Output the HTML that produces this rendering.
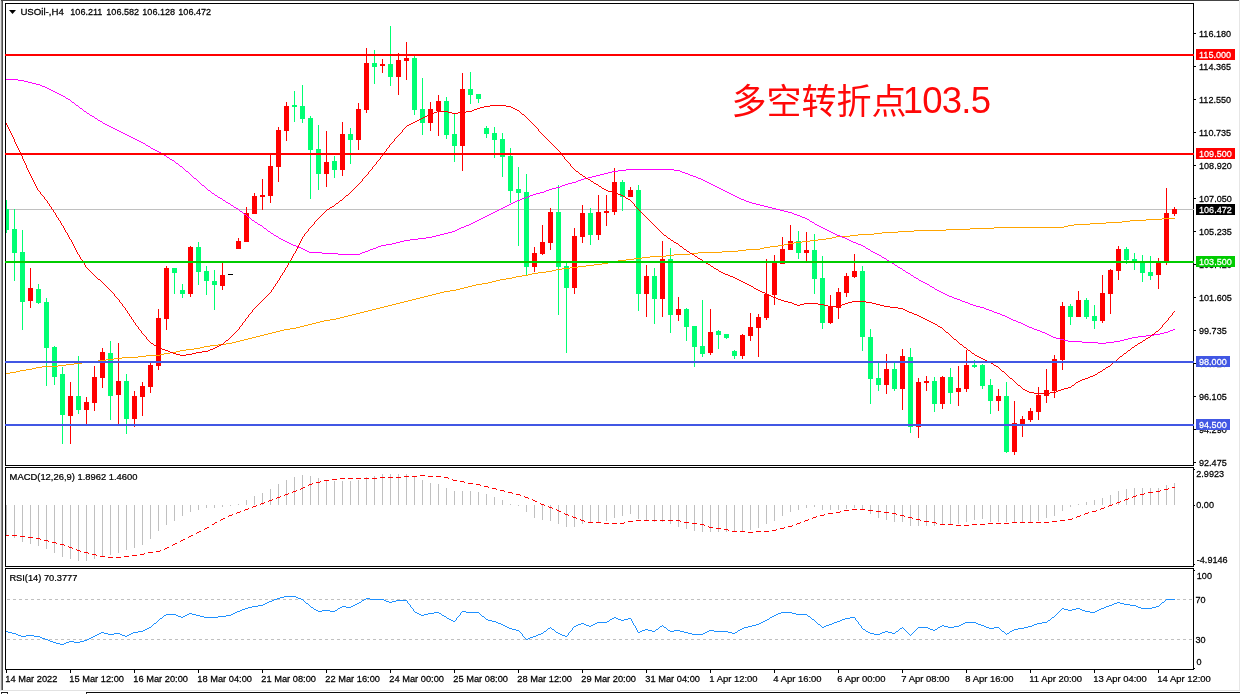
<!DOCTYPE html>
<html lang="zh"><head><meta charset="utf-8"><title>USOil H4</title>
<style>html,body{margin:0;padding:0;background:#fff;overflow:hidden}body{width:1240px;height:694px}svg text{white-space:pre}</style>
</head><body>
<svg width="1240" height="694" viewBox="0 0 1240 694" style="display:block">
<g shape-rendering="crispEdges">
<rect x="0" y="0" width="1240" height="694" fill="#ffffff"/>
<rect x="0" y="0" width="1" height="690" fill="#e4e4e4"/>
<rect x="1" y="0" width="1" height="690" fill="#8c8c8c"/>
<rect x="2" y="0" width="1" height="690" fill="#4a4a4a"/>
<rect x="1" y="0" width="1238" height="1" fill="#444444"/>
<rect x="1239" y="0" width="1" height="691" fill="#e6e6e6"/>
<rect x="0" y="690" width="1240" height="1" fill="#e2e2e2"/>
<rect x="1" y="692" width="7" height="1" fill="#1c1c1c"/>
<rect x="86" y="692" width="1154" height="1" fill="#0c0c0c"/>
<rect x="1" y="693" width="1" height="1" fill="#333"/>
<rect x="7" y="693" width="1" height="1" fill="#333"/>
<rect x="86" y="693" width="1" height="1" fill="#333"/>
<rect x="5" y="3" width="1189" height="1" fill="#000"/>
<rect x="5" y="465" width="1189" height="1" fill="#000"/>
<rect x="5" y="3" width="1" height="463" fill="#000"/>
<rect x="1193" y="3" width="1" height="463" fill="#000"/>
<rect x="5" y="467" width="1189" height="1" fill="#000"/>
<rect x="5" y="566" width="1189" height="1" fill="#000"/>
<rect x="5" y="467" width="1" height="100" fill="#000"/>
<rect x="1193" y="467" width="1" height="100" fill="#000"/>
<rect x="5" y="568" width="1189" height="1" fill="#000"/>
<rect x="5" y="669" width="1189" height="1" fill="#000"/>
<rect x="5" y="568" width="1" height="102" fill="#000"/>
<rect x="1193" y="568" width="1" height="102" fill="#000"/>
<rect x="6" y="209" width="1188" height="1" fill="#c0c0c0"/>
</g>
<clipPath id="cm"><rect x="6" y="4" width="1187" height="461"/></clipPath>
<g shape-rendering="crispEdges" clip-path="url(#cm)">
<rect x="6" y="200" width="1" height="33" fill="#00ff72"/>
<rect x="4" y="209" width="5" height="21" fill="#00ff72"/>
<rect x="14" y="209" width="1" height="72" fill="#00ff72"/>
<rect x="12" y="229" width="5" height="24" fill="#00ff72"/>
<rect x="22" y="230" width="1" height="100" fill="#00ff72"/>
<rect x="20" y="252" width="5" height="50" fill="#00ff72"/>
<rect x="30" y="268" width="1" height="40" fill="#ff0000"/>
<rect x="28" y="288" width="5" height="13" fill="#ff0000"/>
<rect x="38" y="284" width="1" height="20" fill="#00ff72"/>
<rect x="36" y="289" width="5" height="14" fill="#00ff72"/>
<rect x="46" y="298" width="1" height="88" fill="#00ff72"/>
<rect x="44" y="302" width="5" height="46" fill="#00ff72"/>
<rect x="54" y="346" width="1" height="39" fill="#00ff72"/>
<rect x="52" y="347" width="5" height="30" fill="#00ff72"/>
<rect x="62" y="367" width="1" height="77" fill="#00ff72"/>
<rect x="60" y="374" width="5" height="41" fill="#00ff72"/>
<rect x="70" y="382" width="1" height="62" fill="#ff0000"/>
<rect x="68" y="396" width="5" height="20" fill="#ff0000"/>
<rect x="78" y="356" width="1" height="58" fill="#00ff72"/>
<rect x="76" y="396" width="5" height="14" fill="#00ff72"/>
<rect x="86" y="397" width="1" height="27" fill="#ff0000"/>
<rect x="84" y="402" width="5" height="8" fill="#ff0000"/>
<rect x="94" y="366" width="1" height="45" fill="#ff0000"/>
<rect x="92" y="377" width="5" height="26" fill="#ff0000"/>
<rect x="102" y="348" width="1" height="40" fill="#ff0000"/>
<rect x="100" y="352" width="5" height="26" fill="#ff0000"/>
<rect x="110" y="341" width="1" height="79" fill="#00ff72"/>
<rect x="108" y="353" width="5" height="43" fill="#00ff72"/>
<rect x="118" y="343" width="1" height="81" fill="#ff0000"/>
<rect x="116" y="381" width="5" height="14" fill="#ff0000"/>
<rect x="126" y="374" width="1" height="60" fill="#00ff72"/>
<rect x="124" y="381" width="5" height="38" fill="#00ff72"/>
<rect x="134" y="391" width="1" height="36" fill="#ff0000"/>
<rect x="132" y="396" width="5" height="23" fill="#ff0000"/>
<rect x="142" y="382" width="1" height="34" fill="#ff0000"/>
<rect x="140" y="386" width="5" height="11" fill="#ff0000"/>
<rect x="150" y="363" width="1" height="30" fill="#ff0000"/>
<rect x="148" y="365" width="5" height="22" fill="#ff0000"/>
<rect x="158" y="309" width="1" height="61" fill="#ff0000"/>
<rect x="156" y="318" width="5" height="48" fill="#ff0000"/>
<rect x="166" y="266" width="1" height="64" fill="#ff0000"/>
<rect x="164" y="268" width="5" height="51" fill="#ff0000"/>
<rect x="174" y="268" width="1" height="26" fill="#00ff72"/>
<rect x="172" y="268" width="5" height="5" fill="#00ff72"/>
<rect x="182" y="284" width="1" height="14" fill="#00ff72"/>
<rect x="180" y="290" width="5" height="4" fill="#00ff72"/>
<rect x="190" y="246" width="1" height="51" fill="#ff0000"/>
<rect x="188" y="247" width="5" height="47" fill="#ff0000"/>
<rect x="198" y="242" width="1" height="43" fill="#00ff72"/>
<rect x="196" y="247" width="5" height="25" fill="#00ff72"/>
<rect x="206" y="266" width="1" height="29" fill="#00ff72"/>
<rect x="204" y="271" width="5" height="10" fill="#00ff72"/>
<rect x="214" y="270" width="1" height="40" fill="#00ff72"/>
<rect x="212" y="281" width="5" height="4" fill="#00ff72"/>
<rect x="222" y="263" width="1" height="27" fill="#ff0000"/>
<rect x="220" y="275" width="5" height="11" fill="#ff0000"/>
<rect x="230" y="274" width="1" height="1" fill="#000000"/>
<rect x="228" y="274" width="5" height="1" fill="#000000"/>
<rect x="238" y="238" width="1" height="11" fill="#ff0000"/>
<rect x="236" y="241" width="5" height="8" fill="#ff0000"/>
<rect x="246" y="207" width="1" height="35" fill="#ff0000"/>
<rect x="244" y="213" width="5" height="29" fill="#ff0000"/>
<rect x="254" y="193" width="1" height="21" fill="#ff0000"/>
<rect x="252" y="196" width="5" height="18" fill="#ff0000"/>
<rect x="262" y="179" width="1" height="31" fill="#ff0000"/>
<rect x="260" y="195" width="5" height="2" fill="#ff0000"/>
<rect x="270" y="155" width="1" height="48" fill="#ff0000"/>
<rect x="268" y="166" width="5" height="30" fill="#ff0000"/>
<rect x="278" y="127" width="1" height="55" fill="#ff0000"/>
<rect x="276" y="130" width="5" height="37" fill="#ff0000"/>
<rect x="286" y="102" width="1" height="39" fill="#ff0000"/>
<rect x="284" y="106" width="5" height="25" fill="#ff0000"/>
<rect x="294" y="91" width="1" height="31" fill="#00ff72"/>
<rect x="292" y="105" width="5" height="2" fill="#00ff72"/>
<rect x="302" y="85" width="1" height="38" fill="#00ff72"/>
<rect x="300" y="106" width="5" height="13" fill="#00ff72"/>
<rect x="310" y="116" width="1" height="83" fill="#00ff72"/>
<rect x="308" y="118" width="5" height="32" fill="#00ff72"/>
<rect x="318" y="125" width="1" height="65" fill="#00ff72"/>
<rect x="316" y="149" width="5" height="25" fill="#00ff72"/>
<rect x="326" y="131" width="1" height="56" fill="#ff0000"/>
<rect x="324" y="162" width="5" height="12" fill="#ff0000"/>
<rect x="334" y="156" width="1" height="22" fill="#00ff72"/>
<rect x="332" y="161" width="5" height="9" fill="#00ff72"/>
<rect x="342" y="122" width="1" height="54" fill="#ff0000"/>
<rect x="340" y="134" width="5" height="36" fill="#ff0000"/>
<rect x="350" y="128" width="1" height="36" fill="#00ff72"/>
<rect x="348" y="134" width="5" height="6" fill="#00ff72"/>
<rect x="358" y="103" width="1" height="47" fill="#ff0000"/>
<rect x="356" y="109" width="5" height="31" fill="#ff0000"/>
<rect x="366" y="48" width="1" height="65" fill="#ff0000"/>
<rect x="364" y="63" width="5" height="47" fill="#ff0000"/>
<rect x="374" y="50" width="1" height="34" fill="#00ff72"/>
<rect x="372" y="63" width="5" height="4" fill="#00ff72"/>
<rect x="382" y="59" width="1" height="14" fill="#ff0000"/>
<rect x="380" y="64" width="5" height="2" fill="#ff0000"/>
<rect x="390" y="26" width="1" height="60" fill="#00ff72"/>
<rect x="388" y="64" width="5" height="13" fill="#00ff72"/>
<rect x="398" y="53" width="1" height="42" fill="#ff0000"/>
<rect x="396" y="60" width="5" height="17" fill="#ff0000"/>
<rect x="406" y="42" width="1" height="38" fill="#ff0000"/>
<rect x="404" y="58" width="5" height="3" fill="#ff0000"/>
<rect x="414" y="56" width="1" height="59" fill="#00ff72"/>
<rect x="412" y="58" width="5" height="52" fill="#00ff72"/>
<rect x="422" y="78" width="1" height="57" fill="#00ff72"/>
<rect x="420" y="109" width="5" height="14" fill="#00ff72"/>
<rect x="430" y="102" width="1" height="29" fill="#ff0000"/>
<rect x="428" y="109" width="5" height="14" fill="#ff0000"/>
<rect x="438" y="95" width="1" height="41" fill="#ff0000"/>
<rect x="436" y="101" width="5" height="10" fill="#ff0000"/>
<rect x="446" y="97" width="1" height="42" fill="#00ff72"/>
<rect x="444" y="101" width="5" height="34" fill="#00ff72"/>
<rect x="454" y="113" width="1" height="49" fill="#00ff72"/>
<rect x="452" y="134" width="5" height="12" fill="#00ff72"/>
<rect x="462" y="73" width="1" height="98" fill="#ff0000"/>
<rect x="460" y="89" width="5" height="57" fill="#ff0000"/>
<rect x="470" y="72" width="1" height="32" fill="#00ff72"/>
<rect x="468" y="89" width="5" height="6" fill="#00ff72"/>
<rect x="478" y="94" width="1" height="9" fill="#00ff72"/>
<rect x="476" y="94" width="5" height="5" fill="#00ff72"/>
<rect x="486" y="126" width="1" height="12" fill="#00ff72"/>
<rect x="484" y="128" width="5" height="6" fill="#00ff72"/>
<rect x="494" y="127" width="1" height="31" fill="#00ff72"/>
<rect x="492" y="133" width="5" height="7" fill="#00ff72"/>
<rect x="502" y="133" width="1" height="44" fill="#00ff72"/>
<rect x="500" y="139" width="5" height="18" fill="#00ff72"/>
<rect x="510" y="148" width="1" height="55" fill="#00ff72"/>
<rect x="508" y="156" width="5" height="35" fill="#00ff72"/>
<rect x="518" y="167" width="1" height="79" fill="#00ff72"/>
<rect x="516" y="189" width="5" height="4" fill="#00ff72"/>
<rect x="526" y="174" width="1" height="101" fill="#00ff72"/>
<rect x="524" y="192" width="5" height="75" fill="#00ff72"/>
<rect x="534" y="247" width="1" height="25" fill="#ff0000"/>
<rect x="532" y="253" width="5" height="14" fill="#ff0000"/>
<rect x="542" y="225" width="1" height="30" fill="#ff0000"/>
<rect x="540" y="242" width="5" height="12" fill="#ff0000"/>
<rect x="550" y="208" width="1" height="42" fill="#ff0000"/>
<rect x="548" y="212" width="5" height="31" fill="#ff0000"/>
<rect x="558" y="185" width="1" height="130" fill="#00ff72"/>
<rect x="556" y="212" width="5" height="55" fill="#00ff72"/>
<rect x="566" y="263" width="1" height="90" fill="#00ff72"/>
<rect x="564" y="266" width="5" height="22" fill="#00ff72"/>
<rect x="574" y="228" width="1" height="66" fill="#ff0000"/>
<rect x="572" y="236" width="5" height="52" fill="#ff0000"/>
<rect x="582" y="205" width="1" height="38" fill="#ff0000"/>
<rect x="580" y="213" width="5" height="24" fill="#ff0000"/>
<rect x="590" y="208" width="1" height="37" fill="#00ff72"/>
<rect x="588" y="213" width="5" height="22" fill="#00ff72"/>
<rect x="598" y="195" width="1" height="45" fill="#ff0000"/>
<rect x="596" y="212" width="5" height="23" fill="#ff0000"/>
<rect x="606" y="195" width="1" height="31" fill="#ff0000"/>
<rect x="604" y="211" width="5" height="2" fill="#ff0000"/>
<rect x="614" y="168" width="1" height="47" fill="#ff0000"/>
<rect x="612" y="182" width="5" height="30" fill="#ff0000"/>
<rect x="622" y="180" width="1" height="31" fill="#00ff72"/>
<rect x="620" y="182" width="5" height="15" fill="#00ff72"/>
<rect x="630" y="187" width="1" height="10" fill="#ff0000"/>
<rect x="628" y="190" width="5" height="7" fill="#ff0000"/>
<rect x="638" y="185" width="1" height="126" fill="#00ff72"/>
<rect x="636" y="190" width="5" height="104" fill="#00ff72"/>
<rect x="646" y="265" width="1" height="52" fill="#ff0000"/>
<rect x="644" y="276" width="5" height="18" fill="#ff0000"/>
<rect x="654" y="268" width="1" height="56" fill="#00ff72"/>
<rect x="652" y="276" width="5" height="23" fill="#00ff72"/>
<rect x="662" y="241" width="1" height="76" fill="#ff0000"/>
<rect x="660" y="259" width="5" height="40" fill="#ff0000"/>
<rect x="670" y="248" width="1" height="85" fill="#00ff72"/>
<rect x="668" y="259" width="5" height="56" fill="#00ff72"/>
<rect x="678" y="297" width="1" height="24" fill="#ff0000"/>
<rect x="676" y="309" width="5" height="6" fill="#ff0000"/>
<rect x="686" y="308" width="1" height="33" fill="#00ff72"/>
<rect x="684" y="309" width="5" height="18" fill="#00ff72"/>
<rect x="694" y="326" width="1" height="41" fill="#00ff72"/>
<rect x="692" y="326" width="5" height="21" fill="#00ff72"/>
<rect x="702" y="300" width="1" height="57" fill="#00ff72"/>
<rect x="700" y="346" width="5" height="8" fill="#00ff72"/>
<rect x="710" y="309" width="1" height="46" fill="#ff0000"/>
<rect x="708" y="332" width="5" height="21" fill="#ff0000"/>
<rect x="718" y="330" width="1" height="19" fill="#00ff72"/>
<rect x="716" y="331" width="5" height="4" fill="#00ff72"/>
<rect x="726" y="334" width="1" height="5" fill="#00ff72"/>
<rect x="724" y="334" width="5" height="4" fill="#00ff72"/>
<rect x="734" y="350" width="1" height="9" fill="#00ff72"/>
<rect x="732" y="351" width="5" height="5" fill="#00ff72"/>
<rect x="742" y="334" width="1" height="25" fill="#ff0000"/>
<rect x="740" y="335" width="5" height="21" fill="#ff0000"/>
<rect x="750" y="313" width="1" height="28" fill="#ff0000"/>
<rect x="748" y="327" width="5" height="9" fill="#ff0000"/>
<rect x="758" y="314" width="1" height="43" fill="#ff0000"/>
<rect x="756" y="317" width="5" height="11" fill="#ff0000"/>
<rect x="766" y="259" width="1" height="61" fill="#ff0000"/>
<rect x="764" y="294" width="5" height="24" fill="#ff0000"/>
<rect x="774" y="255" width="1" height="50" fill="#ff0000"/>
<rect x="772" y="263" width="5" height="32" fill="#ff0000"/>
<rect x="782" y="237" width="1" height="27" fill="#ff0000"/>
<rect x="780" y="249" width="5" height="15" fill="#ff0000"/>
<rect x="790" y="225" width="1" height="25" fill="#ff0000"/>
<rect x="788" y="241" width="5" height="9" fill="#ff0000"/>
<rect x="798" y="231" width="1" height="28" fill="#00ff72"/>
<rect x="796" y="241" width="5" height="12" fill="#00ff72"/>
<rect x="806" y="232" width="1" height="30" fill="#ff0000"/>
<rect x="804" y="250" width="5" height="3" fill="#ff0000"/>
<rect x="814" y="234" width="1" height="60" fill="#00ff72"/>
<rect x="812" y="250" width="5" height="29" fill="#00ff72"/>
<rect x="822" y="256" width="1" height="73" fill="#00ff72"/>
<rect x="820" y="278" width="5" height="45" fill="#00ff72"/>
<rect x="830" y="295" width="1" height="29" fill="#ff0000"/>
<rect x="828" y="307" width="5" height="16" fill="#ff0000"/>
<rect x="838" y="288" width="1" height="31" fill="#ff0000"/>
<rect x="836" y="292" width="5" height="16" fill="#ff0000"/>
<rect x="846" y="273" width="1" height="24" fill="#ff0000"/>
<rect x="844" y="276" width="5" height="17" fill="#ff0000"/>
<rect x="854" y="254" width="1" height="24" fill="#ff0000"/>
<rect x="852" y="271" width="5" height="6" fill="#ff0000"/>
<rect x="862" y="266" width="1" height="85" fill="#00ff72"/>
<rect x="860" y="271" width="5" height="66" fill="#00ff72"/>
<rect x="870" y="329" width="1" height="75" fill="#00ff72"/>
<rect x="868" y="337" width="5" height="42" fill="#00ff72"/>
<rect x="878" y="363" width="1" height="28" fill="#00ff72"/>
<rect x="876" y="378" width="5" height="7" fill="#00ff72"/>
<rect x="886" y="354" width="1" height="40" fill="#ff0000"/>
<rect x="884" y="369" width="5" height="16" fill="#ff0000"/>
<rect x="894" y="363" width="1" height="28" fill="#00ff72"/>
<rect x="892" y="369" width="5" height="20" fill="#00ff72"/>
<rect x="902" y="349" width="1" height="61" fill="#ff0000"/>
<rect x="900" y="356" width="5" height="33" fill="#ff0000"/>
<rect x="910" y="348" width="1" height="85" fill="#00ff72"/>
<rect x="908" y="357" width="5" height="70" fill="#00ff72"/>
<rect x="918" y="378" width="1" height="60" fill="#ff0000"/>
<rect x="916" y="382" width="5" height="45" fill="#ff0000"/>
<rect x="926" y="376" width="1" height="15" fill="#ff0000"/>
<rect x="924" y="381" width="5" height="2" fill="#ff0000"/>
<rect x="934" y="377" width="1" height="35" fill="#00ff72"/>
<rect x="932" y="381" width="5" height="23" fill="#00ff72"/>
<rect x="942" y="376" width="1" height="33" fill="#ff0000"/>
<rect x="940" y="377" width="5" height="27" fill="#ff0000"/>
<rect x="950" y="368" width="1" height="36" fill="#00ff72"/>
<rect x="948" y="377" width="5" height="16" fill="#00ff72"/>
<rect x="958" y="366" width="1" height="40" fill="#ff0000"/>
<rect x="956" y="388" width="5" height="4" fill="#ff0000"/>
<rect x="966" y="350" width="1" height="42" fill="#ff0000"/>
<rect x="964" y="365" width="5" height="24" fill="#ff0000"/>
<rect x="974" y="360" width="1" height="8" fill="#00ff72"/>
<rect x="972" y="365" width="5" height="2" fill="#00ff72"/>
<rect x="982" y="364" width="1" height="25" fill="#00ff72"/>
<rect x="980" y="365" width="5" height="21" fill="#00ff72"/>
<rect x="990" y="379" width="1" height="35" fill="#00ff72"/>
<rect x="988" y="385" width="5" height="16" fill="#00ff72"/>
<rect x="998" y="389" width="1" height="22" fill="#ff0000"/>
<rect x="996" y="396" width="5" height="5" fill="#ff0000"/>
<rect x="1006" y="382" width="1" height="71" fill="#00ff72"/>
<rect x="1004" y="396" width="5" height="56" fill="#00ff72"/>
<rect x="1014" y="401" width="1" height="54" fill="#ff0000"/>
<rect x="1012" y="423" width="5" height="29" fill="#ff0000"/>
<rect x="1022" y="416" width="1" height="21" fill="#ff0000"/>
<rect x="1020" y="419" width="5" height="5" fill="#ff0000"/>
<rect x="1030" y="408" width="1" height="14" fill="#ff0000"/>
<rect x="1028" y="411" width="5" height="9" fill="#ff0000"/>
<rect x="1038" y="387" width="1" height="33" fill="#ff0000"/>
<rect x="1036" y="395" width="5" height="17" fill="#ff0000"/>
<rect x="1046" y="369" width="1" height="34" fill="#ff0000"/>
<rect x="1044" y="390" width="5" height="6" fill="#ff0000"/>
<rect x="1054" y="355" width="1" height="43" fill="#ff0000"/>
<rect x="1052" y="359" width="5" height="32" fill="#ff0000"/>
<rect x="1062" y="302" width="1" height="68" fill="#ff0000"/>
<rect x="1060" y="306" width="5" height="54" fill="#ff0000"/>
<rect x="1070" y="304" width="1" height="21" fill="#00ff72"/>
<rect x="1068" y="306" width="5" height="11" fill="#00ff72"/>
<rect x="1078" y="291" width="1" height="26" fill="#ff0000"/>
<rect x="1076" y="300" width="5" height="17" fill="#ff0000"/>
<rect x="1086" y="298" width="1" height="21" fill="#00ff72"/>
<rect x="1084" y="300" width="5" height="17" fill="#00ff72"/>
<rect x="1094" y="305" width="1" height="24" fill="#00ff72"/>
<rect x="1092" y="316" width="5" height="5" fill="#00ff72"/>
<rect x="1102" y="275" width="1" height="48" fill="#ff0000"/>
<rect x="1100" y="293" width="5" height="28" fill="#ff0000"/>
<rect x="1110" y="269" width="1" height="45" fill="#ff0000"/>
<rect x="1108" y="270" width="5" height="24" fill="#ff0000"/>
<rect x="1118" y="246" width="1" height="34" fill="#ff0000"/>
<rect x="1116" y="249" width="5" height="22" fill="#ff0000"/>
<rect x="1126" y="247" width="1" height="17" fill="#00ff72"/>
<rect x="1124" y="249" width="5" height="11" fill="#00ff72"/>
<rect x="1134" y="253" width="1" height="17" fill="#00ff72"/>
<rect x="1132" y="259" width="5" height="3" fill="#00ff72"/>
<rect x="1142" y="255" width="1" height="27" fill="#00ff72"/>
<rect x="1140" y="262" width="5" height="11" fill="#00ff72"/>
<rect x="1150" y="256" width="1" height="24" fill="#00ff72"/>
<rect x="1148" y="272" width="5" height="4" fill="#00ff72"/>
<rect x="1158" y="258" width="1" height="31" fill="#ff0000"/>
<rect x="1156" y="262" width="5" height="13" fill="#ff0000"/>
<rect x="1166" y="188" width="1" height="77" fill="#ff0000"/>
<rect x="1164" y="213" width="5" height="49" fill="#ff0000"/>
<rect x="1174" y="207" width="1" height="9" fill="#ff0000"/>
<rect x="1172" y="209" width="5" height="5" fill="#ff0000"/>
<path d="M6 373h4v1h-4zM10 372h6v1h-6zM16 371h4v1h-4zM20 370h6v1h-6zM26 369h6v1h-6zM32 368h4v1h-4zM36 367h6v1h-6zM42 366h16v1h-16zM58 365h8v1h-8zM66 364h8v1h-8zM74 363h8v1h-8zM82 362h8v1h-8zM90 361h8v1h-8zM98 360h8v1h-8zM106 359h8v1h-8zM114 358h8v1h-8zM122 357h16v1h-16zM138 356h8v1h-8zM146 355h14v1h-14zM160 354h4v1h-4zM164 353h6v1h-6zM170 352h6v1h-6zM176 351h4v1h-4zM180 350h6v1h-6zM186 349h8v1h-8zM194 348h6v1h-6zM200 347h4v1h-4zM204 346h6v1h-6zM210 345h8v1h-8zM218 344h8v1h-8zM226 343h6v1h-6zM232 342h4v1h-4zM236 341h4v1h-4zM240 340h4v1h-4zM244 339h4v1h-4zM248 338h4v1h-4zM252 337h4v1h-4zM256 336h4v1h-4zM260 335h4v1h-4zM264 334h4v1h-4zM268 333h4v1h-4zM272 332h4v1h-4zM276 331h4v1h-4zM280 330h4v1h-4zM284 329h6v1h-6zM290 328h6v1h-6zM296 327h4v1h-4zM300 326h4v1h-4zM304 325h4v1h-4zM308 324h4v1h-4zM312 323h4v1h-4zM316 322h4v1h-4zM320 321h4v1h-4zM324 320h6v1h-6zM330 319h6v1h-6zM336 318h4v1h-4zM340 317h4v1h-4zM344 316h4v1h-4zM348 315h4v1h-4zM352 314h4v1h-4zM356 313h4v1h-4zM360 312h4v1h-4zM364 311h4v1h-4zM368 310h4v1h-4zM372 309h4v1h-4zM376 308h4v1h-4zM380 307h4v1h-4zM384 306h4v1h-4zM388 305h4v1h-4zM392 304h4v1h-4zM396 303h4v1h-4zM400 302h4v1h-4zM404 301h4v1h-4zM408 300h4v1h-4zM412 299h4v1h-4zM416 298h4v1h-4zM420 297h4v1h-4zM424 296h4v1h-4zM428 295h4v1h-4zM432 294h4v1h-4zM436 293h4v1h-4zM440 292h4v1h-4zM444 291h6v1h-6zM450 290h6v1h-6zM456 289h4v1h-4zM460 288h4v1h-4zM464 287h4v1h-4zM468 286h4v1h-4zM472 285h4v1h-4zM476 284h6v1h-6zM482 283h6v1h-6zM488 282h4v1h-4zM492 281h4v1h-4zM496 280h4v1h-4zM500 279h6v1h-6zM506 278h6v1h-6zM512 277h4v1h-4zM516 276h6v1h-6zM522 275h6v1h-6zM528 274h4v1h-4zM532 273h6v1h-6zM538 272h8v1h-8zM546 271h6v1h-6zM552 270h4v1h-4zM556 269h6v1h-6zM562 268h8v1h-8zM570 267h8v1h-8zM578 266h8v1h-8zM586 265h8v1h-8zM594 264h8v1h-8zM602 263h6v1h-6zM608 262h4v1h-4zM612 261h6v1h-6zM618 260h8v1h-8zM626 259h8v1h-8zM634 258h8v1h-8zM642 257h8v1h-8zM650 256h16v1h-16zM666 255h8v1h-8zM674 254h16v1h-16zM690 253h8v1h-8zM698 252h24v1h-24zM722 251h16v1h-16zM738 250h8v1h-8zM746 249h14v1h-14zM760 248h4v1h-4zM764 247h6v1h-6zM770 246h8v1h-8zM778 245h6v1h-6zM784 244h4v1h-4zM788 243h6v1h-6zM794 242h8v1h-8zM802 241h8v1h-8zM810 240h8v1h-8zM818 239h8v1h-8zM826 238h6v1h-6zM832 237h4v1h-4zM836 236h14v1h-14zM850 235h8v1h-8zM858 234h16v1h-16zM874 233h8v1h-8zM882 232h16v1h-16zM898 231h16v1h-16zM914 230h32v1h-32zM946 229h24v1h-24zM970 228h24v1h-24zM994 227h70v1h-70zM1064 226h4v1h-4zM1068 225h6v1h-6zM1074 224h16v1h-16zM1090 223h16v1h-16zM1106 222h16v1h-16zM1122 221h8v1h-8zM1130 220h16v1h-16zM1146 219h16v1h-16zM1162 218h13v1h-13z" fill="#ffa500"/>
<path d="M6 79h12v1h-12zM18 80h6v1h-6zM24 81h4v1h-4zM28 82h4v1h-4zM32 83h4v1h-4zM36 84h4v1h-4zM40 85h2v1h-2zM42 86h3v1h-3zM45 87h2v1h-2zM47 88h2v1h-2zM49 89h2v1h-2zM51 90h2v1h-2zM53 91h2v1h-2zM55 92h2v1h-2zM57 93h2v1h-2zM59 94h2v1h-2zM61 95h2v1h-2zM63 96h2v1h-2zM65 97h1v1h-1zM66 98h2v1h-2zM68 99h2v1h-2zM70 100h1v1h-1zM71 101h1v1h-1zM72 102h2v1h-2zM74 103h1v1h-1zM75 104h1v1h-1zM76 105h2v1h-2zM78 106h1v1h-1zM79 107h1v1h-1zM80 108h2v1h-2zM82 109h1v1h-1zM83 110h1v1h-1zM84 111h2v1h-2zM86 112h1v1h-1zM87 113h2v1h-2zM89 114h1v1h-1zM90 115h2v1h-2zM92 116h2v1h-2zM94 117h1v1h-1zM95 118h2v1h-2zM97 119h1v1h-1zM98 120h2v1h-2zM100 121h2v1h-2zM102 122h1v1h-1zM103 123h2v1h-2zM105 124h2v1h-2zM107 125h2v1h-2zM109 126h2v1h-2zM111 127h2v1h-2zM113 128h2v1h-2zM115 129h2v1h-2zM117 130h2v1h-2zM119 131h2v1h-2zM121 132h2v1h-2zM123 133h2v1h-2zM125 134h2v1h-2zM127 135h2v1h-2zM129 136h2v1h-2zM131 137h2v1h-2zM133 138h2v1h-2zM135 139h2v1h-2zM137 140h2v1h-2zM139 141h2v1h-2zM141 142h2v1h-2zM143 143h2v1h-2zM145 144h1v1h-1zM146 145h2v1h-2zM148 146h2v1h-2zM150 147h1v1h-1zM151 148h2v1h-2zM153 149h2v1h-2zM155 150h2v1h-2zM157 151h2v1h-2zM159 152h2v1h-2zM161 153h1v1h-1zM162 154h2v1h-2zM164 155h2v1h-2zM166 156h1v1h-1zM167 157h2v1h-2zM169 158h1v1h-1zM170 159h2v1h-2zM172 160h2v1h-2zM174 161h1v1h-1zM175 162h1v1h-1zM176 163h2v1h-2zM178 164h1v1h-1zM179 165h1v1h-1zM180 166h2v1h-2zM182 167h1v1h-1zM183 168h1v1h-1zM184 169h1v1h-1zM185 170h1v1h-1zM186 171h2v1h-2zM188 172h1v1h-1zM189 173h1v1h-1zM190 174h1v1h-1zM191 175h1v1h-1zM192 176h1v1h-1zM193 177h1v1h-1zM194 178h2v1h-2zM196 179h1v1h-1zM197 180h1v1h-1zM198 181h1v1h-1zM199 182h1v1h-1zM200 183h1v1h-1zM201 184h1v1h-1zM202 185h2v1h-2zM204 186h1v1h-1zM205 187h1v1h-1zM206 188h1v1h-1zM207 189h1v1h-1zM208 190h2v1h-2zM210 191h1v1h-1zM211 192h1v1h-1zM212 193h2v1h-2zM214 194h1v1h-1zM215 195h2v1h-2zM217 196h1v1h-1zM218 197h2v1h-2zM220 198h2v1h-2zM222 199h1v1h-1zM223 200h2v1h-2zM225 201h1v1h-1zM226 202h2v1h-2zM228 203h2v1h-2zM230 204h1v1h-1zM231 205h2v1h-2zM233 206h1v1h-1zM234 207h2v1h-2zM236 208h2v1h-2zM238 209h1v1h-1zM239 210h1v1h-1zM240 211h2v1h-2zM242 212h1v1h-1zM243 213h1v1h-1zM244 214h2v1h-2zM246 215h1v1h-1zM247 216h1v1h-1zM248 217h2v1h-2zM250 218h1v1h-1zM251 219h1v1h-1zM252 220h2v1h-2zM254 221h1v1h-1zM255 222h2v1h-2zM257 223h1v1h-1zM258 224h2v1h-2zM260 225h2v1h-2zM262 226h1v1h-1zM263 227h1v1h-1zM264 228h2v1h-2zM266 229h1v1h-1zM267 230h1v1h-1zM268 231h2v1h-2zM270 232h1v1h-1zM271 233h2v1h-2zM273 234h1v1h-1zM274 235h2v1h-2zM276 236h2v1h-2zM278 237h1v1h-1zM279 238h2v1h-2zM281 239h2v1h-2zM283 240h2v1h-2zM285 241h2v1h-2zM287 242h2v1h-2zM289 243h2v1h-2zM291 244h2v1h-2zM293 245h3v1h-3zM296 246h2v1h-2zM298 247h3v1h-3zM301 248h2v1h-2zM303 249h2v1h-2zM305 250h2v1h-2zM307 251h2v1h-2zM309 252h13v1h-13zM322 253h16v1h-16zM338 254h22v1h-22zM360 253h2v1h-2zM362 252h3v1h-3zM365 251h3v1h-3zM368 250h2v1h-2zM370 249h3v1h-3zM373 248h3v1h-3zM376 247h2v1h-2zM378 246h3v1h-3zM381 245h5v1h-5zM386 244h6v1h-6zM392 243h4v1h-4zM396 242h4v1h-4zM400 241h4v1h-4zM404 240h6v1h-6zM410 239h8v1h-8zM418 238h8v1h-8zM426 237h6v1h-6zM432 236h4v1h-4zM436 235h4v1h-4zM440 234h4v1h-4zM444 233h4v1h-4zM448 232h4v1h-4zM452 231h3v1h-3zM455 230h2v1h-2zM457 229h2v1h-2zM459 228h2v1h-2zM461 227h3v1h-3zM464 226h2v1h-2zM466 225h3v1h-3zM469 224h2v1h-2zM471 223h2v1h-2zM473 222h2v1h-2zM475 221h2v1h-2zM477 220h2v1h-2zM479 219h2v1h-2zM481 218h2v1h-2zM483 217h2v1h-2zM485 216h2v1h-2zM487 215h2v1h-2zM489 214h2v1h-2zM491 213h2v1h-2zM493 212h2v1h-2zM495 211h2v1h-2zM497 210h2v1h-2zM499 209h2v1h-2zM501 208h2v1h-2zM503 207h2v1h-2zM505 206h2v1h-2zM507 205h2v1h-2zM509 204h2v1h-2zM511 203h2v1h-2zM513 202h2v1h-2zM515 201h2v1h-2zM517 200h3v1h-3zM520 199h2v1h-2zM522 198h3v1h-3zM525 197h3v1h-3zM528 196h2v1h-2zM530 195h3v1h-3zM533 194h3v1h-3zM536 193h4v1h-4zM540 192h4v1h-4zM544 191h2v1h-2zM546 190h3v1h-3zM549 189h3v1h-3zM552 188h4v1h-4zM556 187h4v1h-4zM560 186h2v1h-2zM562 185h3v1h-3zM565 184h3v1h-3zM568 183h4v1h-4zM572 182h4v1h-4zM576 181h2v1h-2zM578 180h3v1h-3zM581 179h3v1h-3zM584 178h4v1h-4zM588 177h4v1h-4zM592 176h4v1h-4zM596 175h4v1h-4zM600 174h4v1h-4zM604 173h4v1h-4zM608 172h4v1h-4zM612 171h6v1h-6zM618 170h8v1h-8zM626 169h48v1h-48zM674 170h6v1h-6zM680 171h2v1h-2zM682 172h3v1h-3zM685 173h3v1h-3zM688 174h2v1h-2zM690 175h3v1h-3zM693 176h3v1h-3zM696 177h2v1h-2zM698 178h3v1h-3zM701 179h2v1h-2zM703 180h2v1h-2zM705 181h2v1h-2zM707 182h2v1h-2zM709 183h2v1h-2zM711 184h2v1h-2zM713 185h2v1h-2zM715 186h2v1h-2zM717 187h2v1h-2zM719 188h2v1h-2zM721 189h2v1h-2zM723 190h2v1h-2zM725 191h2v1h-2zM727 192h2v1h-2zM729 193h2v1h-2zM731 194h2v1h-2zM733 195h2v1h-2zM735 196h2v1h-2zM737 197h2v1h-2zM739 198h2v1h-2zM741 199h3v1h-3zM744 200h2v1h-2zM746 201h3v1h-3zM749 202h3v1h-3zM752 203h4v1h-4zM756 204h4v1h-4zM760 205h4v1h-4zM764 206h4v1h-4zM768 207h4v1h-4zM772 208h4v1h-4zM776 209h4v1h-4zM780 210h4v1h-4zM784 211h4v1h-4zM788 212h4v1h-4zM792 213h2v1h-2zM794 214h3v1h-3zM797 215h3v1h-3zM800 216h2v1h-2zM802 217h3v1h-3zM805 218h2v1h-2zM807 219h2v1h-2zM809 220h1v1h-1zM810 221h2v1h-2zM812 222h2v1h-2zM814 223h1v1h-1zM815 224h2v1h-2zM817 225h2v1h-2zM819 226h2v1h-2zM821 227h2v1h-2zM823 228h2v1h-2zM825 229h2v1h-2zM827 230h2v1h-2zM829 231h2v1h-2zM831 232h2v1h-2zM833 233h2v1h-2zM835 234h2v1h-2zM837 235h3v1h-3zM840 236h2v1h-2zM842 237h3v1h-3zM845 238h2v1h-2zM847 239h2v1h-2zM849 240h2v1h-2zM851 241h2v1h-2zM853 242h3v1h-3zM856 243h2v1h-2zM858 244h3v1h-3zM861 245h2v1h-2zM863 246h2v1h-2zM865 247h1v1h-1zM866 248h2v1h-2zM868 249h2v1h-2zM870 250h1v1h-1zM871 251h2v1h-2zM873 252h2v1h-2zM875 253h2v1h-2zM877 254h2v1h-2zM879 255h2v1h-2zM881 256h1v1h-1zM882 257h2v1h-2zM884 258h2v1h-2zM886 259h1v1h-1zM887 260h2v1h-2zM889 261h1v1h-1zM890 262h2v1h-2zM892 263h2v1h-2zM894 264h1v1h-1zM895 265h2v1h-2zM897 266h1v1h-1zM898 267h2v1h-2zM900 268h2v1h-2zM902 269h1v1h-1zM903 270h2v1h-2zM905 271h1v1h-1zM906 272h2v1h-2zM908 273h2v1h-2zM910 274h1v1h-1zM911 275h2v1h-2zM913 276h1v1h-1zM914 277h2v1h-2zM916 278h2v1h-2zM918 279h1v1h-1zM919 280h2v1h-2zM921 281h2v1h-2zM923 282h2v1h-2zM925 283h2v1h-2zM927 284h2v1h-2zM929 285h1v1h-1zM930 286h2v1h-2zM932 287h2v1h-2zM934 288h1v1h-1zM935 289h2v1h-2zM937 290h2v1h-2zM939 291h2v1h-2zM941 292h2v1h-2zM943 293h2v1h-2zM945 294h2v1h-2zM947 295h2v1h-2zM949 296h3v1h-3zM952 297h2v1h-2zM954 298h3v1h-3zM957 299h3v1h-3zM960 300h2v1h-2zM962 301h3v1h-3zM965 302h3v1h-3zM968 303h2v1h-2zM970 304h3v1h-3zM973 305h3v1h-3zM976 306h4v1h-4zM980 307h4v1h-4zM984 308h2v1h-2zM986 309h3v1h-3zM989 310h3v1h-3zM992 311h2v1h-2zM994 312h3v1h-3zM997 313h3v1h-3zM1000 314h2v1h-2zM1002 315h3v1h-3zM1005 316h2v1h-2zM1007 317h2v1h-2zM1009 318h2v1h-2zM1011 319h2v1h-2zM1013 320h3v1h-3zM1016 321h2v1h-2zM1018 322h3v1h-3zM1021 323h2v1h-2zM1023 324h2v1h-2zM1025 325h2v1h-2zM1027 326h2v1h-2zM1029 327h3v1h-3zM1032 328h2v1h-2zM1034 329h3v1h-3zM1037 330h3v1h-3zM1040 331h2v1h-2zM1042 332h3v1h-3zM1045 333h2v1h-2zM1047 334h2v1h-2zM1049 335h2v1h-2zM1051 336h2v1h-2zM1053 337h3v1h-3zM1056 338h4v1h-4zM1060 339h4v1h-4zM1064 340h4v1h-4zM1068 341h14v1h-14zM1082 342h16v1h-16zM1098 343h8v1h-8zM1106 342h8v1h-8zM1114 341h6v1h-6zM1120 340h4v1h-4zM1124 339h4v1h-4zM1128 338h4v1h-4zM1132 337h6v1h-6zM1138 336h8v1h-8zM1146 335h8v1h-8zM1154 334h6v1h-6zM1160 333h4v1h-4zM1164 332h4v1h-4zM1168 331h2v1h-2zM1170 330h3v1h-3zM1173 329h2v1h-2z" fill="#ff00ff"/>
<path d="M6 123h1v2h-1zM7 125h1v2h-1zM8 127h1v2h-1zM9 129h1v2h-1zM10 131h1v2h-1zM11 133h1v2h-1zM12 135h1v2h-1zM13 137h1v2h-1zM14 139h1v3h-1zM15 142h1v2h-1zM16 144h1v2h-1zM17 146h1v2h-1zM18 148h1v2h-1zM19 150h1v2h-1zM20 152h1v2h-1zM21 154h1v2h-1zM22 156h1v3h-1zM23 159h1v2h-1zM24 161h1v2h-1zM25 163h1v2h-1zM26 165h1v3h-1zM27 168h1v2h-1zM28 170h1v2h-1zM29 172h1v2h-1zM30 174h1v2h-1zM31 176h1v2h-1zM32 178h1v2h-1zM33 180h1v2h-1zM34 182h1v2h-1zM35 184h1v2h-1zM36 186h1v2h-1zM37 188h1v2h-1zM38 190h1v1h-1zM39 191h1v1h-1zM40 192h1v2h-1zM41 194h1v1h-1zM42 195h1v1h-1zM43 196h1v1h-1zM44 197h1v2h-1zM45 199h1v1h-1zM46 200h1v1h-1zM47 201h1v2h-1zM48 203h1v1h-1zM49 204h1v2h-1zM50 206h1v1h-1zM51 207h1v2h-1zM52 209h1v1h-1zM53 210h1v2h-1zM54 212h1v1h-1zM55 213h1v2h-1zM56 215h1v2h-1zM57 217h1v1h-1zM58 218h1v2h-1zM59 220h1v1h-1zM60 221h1v2h-1zM61 223h1v2h-1zM62 225h1v1h-1zM63 226h1v2h-1zM64 228h1v2h-1zM65 230h1v2h-1zM66 232h1v1h-1zM67 233h1v2h-1zM68 235h1v2h-1zM69 237h1v2h-1zM70 239h1v1h-1zM71 240h1v2h-1zM72 242h1v2h-1zM73 244h1v2h-1zM74 246h1v2h-1zM75 248h1v2h-1zM76 250h1v2h-1zM77 252h1v2h-1zM78 254h1v1h-1zM79 255h1v2h-1zM80 257h1v2h-1zM81 259h1v1h-1zM82 260h1v2h-1zM83 262h1v1h-1zM84 263h1v2h-1zM85 265h1v2h-1zM86 267h1v1h-1zM87 268h1v1h-1zM88 269h1v1h-1zM89 270h1v1h-1zM90 271h1v1h-1zM91 272h1v1h-1zM92 273h1v1h-1zM93 274h1v1h-1zM94 275h1v1h-1zM95 276h1v1h-1zM96 277h1v1h-1zM97 278h1v1h-1zM98 279h2v1h-2zM100 280h1v1h-1zM101 281h1v1h-1zM102 282h1v1h-1zM103 283h1v1h-1zM104 284h1v1h-1zM105 285h1v1h-1zM106 286h1v1h-1zM107 287h1v1h-1zM108 288h1v1h-1zM109 289h1v1h-1zM110 290h1v1h-1zM111 291h1v1h-1zM112 292h1v1h-1zM113 293h1v1h-1zM114 294h1v2h-1zM115 296h1v1h-1zM116 297h1v1h-1zM117 298h1v1h-1zM118 299h1v1h-1zM119 300h1v2h-1zM120 302h1v1h-1zM121 303h1v1h-1zM122 304h1v2h-1zM123 306h1v1h-1zM124 307h1v1h-1zM125 308h1v2h-1zM126 310h1v1h-1zM127 311h1v2h-1zM128 313h1v1h-1zM129 314h1v2h-1zM130 316h1v1h-1zM131 317h1v2h-1zM132 319h1v1h-1zM133 320h1v2h-1zM134 322h1v1h-1zM135 323h1v2h-1zM136 325h1v1h-1zM137 326h1v1h-1zM138 327h1v2h-1zM139 329h1v1h-1zM140 330h1v1h-1zM141 331h1v2h-1zM142 333h1v1h-1zM143 334h1v1h-1zM144 335h1v1h-1zM145 336h1v1h-1zM146 337h1v2h-1zM147 339h1v1h-1zM148 340h1v1h-1zM149 341h1v1h-1zM150 342h1v1h-1zM151 343h2v1h-2zM153 344h1v1h-1zM154 345h2v1h-2zM156 346h2v1h-2zM158 347h2v1h-2zM160 348h2v1h-2zM162 349h3v1h-3zM165 350h3v1h-3zM168 351h2v1h-2zM170 352h3v1h-3zM173 353h3v1h-3zM176 354h4v1h-4zM180 355h6v1h-6zM186 354h6v1h-6zM192 353h4v1h-4zM196 352h6v1h-6zM202 351h6v1h-6zM208 350h2v1h-2zM210 349h3v1h-3zM213 348h2v1h-2zM215 347h2v1h-2zM217 346h2v1h-2zM219 345h2v1h-2zM221 344h2v1h-2zM223 343h1v1h-1zM224 342h1v1h-1zM225 341h1v1h-1zM226 340h2v1h-2zM228 339h1v1h-1zM229 338h1v1h-1zM230 337h1v1h-1zM231 336h1v1h-1zM232 335h1v1h-1zM233 334h1v1h-1zM234 333h1v1h-1zM235 332h1v1h-1zM236 331h1v1h-1zM237 330h1v1h-1zM238 329h1v1h-1zM239 327h1v2h-1zM240 326h1v1h-1zM241 325h1v1h-1zM242 323h1v2h-1zM243 322h1v1h-1zM244 321h1v1h-1zM245 319h1v2h-1zM246 318h1v1h-1zM247 317h1v1h-1zM248 315h1v2h-1zM249 314h1v1h-1zM250 313h1v1h-1zM251 312h1v1h-1zM252 310h1v2h-1zM253 309h1v1h-1zM254 308h1v1h-1zM255 307h1v1h-1zM256 306h1v1h-1zM257 305h1v1h-1zM258 304h1v1h-1zM259 303h1v1h-1zM260 302h1v1h-1zM261 301h1v1h-1zM262 300h1v1h-1zM263 299h1v1h-1zM264 298h1v1h-1zM265 297h1v1h-1zM266 296h1v1h-1zM267 295h1v1h-1zM268 294h1v1h-1zM269 293h1v1h-1zM270 292h1v1h-1zM271 290h1v2h-1zM272 289h1v1h-1zM273 287h1v2h-1zM274 286h1v1h-1zM275 284h1v2h-1zM276 283h1v1h-1zM277 281h1v2h-1zM278 280h1v1h-1zM279 278h1v2h-1zM280 276h1v2h-1zM281 275h1v1h-1zM282 273h1v2h-1zM283 272h1v1h-1zM284 270h1v2h-1zM285 268h1v2h-1zM286 267h1v1h-1zM287 265h1v2h-1zM288 263h1v2h-1zM289 261h1v2h-1zM290 260h1v1h-1zM291 258h1v2h-1zM292 256h1v2h-1zM293 254h1v2h-1zM294 253h1v1h-1zM295 251h1v2h-1zM296 249h1v2h-1zM297 247h1v2h-1zM298 245h1v2h-1zM299 243h1v2h-1zM300 241h1v2h-1zM301 239h1v2h-1zM302 237h1v2h-1zM303 236h1v1h-1zM304 234h1v2h-1zM305 233h1v1h-1zM306 232h1v1h-1zM307 231h1v1h-1zM308 229h1v2h-1zM309 228h1v1h-1zM310 227h1v1h-1zM311 226h1v1h-1zM312 225h1v1h-1zM313 224h1v1h-1zM314 222h1v2h-1zM315 221h1v1h-1zM316 220h1v1h-1zM317 219h1v1h-1zM318 218h1v1h-1zM319 217h1v1h-1zM320 216h1v1h-1zM321 215h1v1h-1zM322 214h1v1h-1zM323 213h1v1h-1zM324 212h1v1h-1zM325 211h1v1h-1zM326 210h1v1h-1zM327 209h2v1h-2zM329 208h1v1h-1zM330 207h2v1h-2zM332 206h2v1h-2zM334 205h1v1h-1zM335 204h1v1h-1zM336 203h2v1h-2zM338 202h1v1h-1zM339 201h1v1h-1zM340 200h2v1h-2zM342 199h1v1h-1zM343 198h1v1h-1zM344 197h1v1h-1zM345 196h1v1h-1zM346 195h2v1h-2zM348 194h1v1h-1zM349 193h1v1h-1zM350 192h1v1h-1zM351 191h1v1h-1zM352 190h1v1h-1zM353 189h1v1h-1zM354 188h1v1h-1zM355 187h1v1h-1zM356 186h1v1h-1zM357 185h1v1h-1zM358 184h1v1h-1zM359 183h1v1h-1zM360 182h1v1h-1zM361 181h1v1h-1zM362 179h1v2h-1zM363 178h1v1h-1zM364 177h1v1h-1zM365 176h1v1h-1zM366 175h1v1h-1zM367 174h1v1h-1zM368 172h1v2h-1zM369 171h1v1h-1zM370 170h1v1h-1zM371 169h1v1h-1zM372 167h1v2h-1zM373 166h1v1h-1zM374 165h1v1h-1zM375 164h1v1h-1zM376 162h1v2h-1zM377 161h1v1h-1zM378 160h1v1h-1zM379 159h1v1h-1zM380 157h1v2h-1zM381 156h1v1h-1zM382 155h1v1h-1zM383 153h1v2h-1zM384 152h1v1h-1zM385 151h1v1h-1zM386 149h1v2h-1zM387 148h1v1h-1zM388 147h1v1h-1zM389 145h1v2h-1zM390 144h1v1h-1zM391 143h1v1h-1zM392 142h1v1h-1zM393 141h1v1h-1zM394 139h1v2h-1zM395 138h1v1h-1zM396 137h1v1h-1zM397 136h1v1h-1zM398 135h1v1h-1zM399 134h1v1h-1zM400 133h1v1h-1zM401 132h1v1h-1zM402 130h1v2h-1zM403 129h1v1h-1zM404 128h1v1h-1zM405 127h1v1h-1zM406 126h1v1h-1zM407 125h2v1h-2zM409 124h2v1h-2zM411 123h2v1h-2zM413 122h2v1h-2zM415 121h2v1h-2zM417 120h2v1h-2zM419 119h2v1h-2zM421 118h2v1h-2zM423 117h2v1h-2zM425 116h2v1h-2zM427 115h2v1h-2zM429 114h3v1h-3zM432 113h2v1h-2zM434 112h3v1h-3zM437 111h11v1h-11zM448 112h4v1h-4zM452 113h6v1h-6zM458 112h8v1h-8zM466 111h6v1h-6zM472 110h2v1h-2zM474 109h3v1h-3zM477 108h3v1h-3zM480 107h4v1h-4zM484 106h6v1h-6zM490 105h16v1h-16zM506 106h5v1h-5zM511 107h2v1h-2zM513 108h2v1h-2zM515 109h2v1h-2zM517 110h2v1h-2zM519 111h1v1h-1zM520 112h1v1h-1zM521 113h1v1h-1zM522 114h2v1h-2zM524 115h1v1h-1zM525 116h1v1h-1zM526 117h1v1h-1zM527 118h1v1h-1zM528 119h1v1h-1zM529 120h1v1h-1zM530 121h1v1h-1zM531 122h1v1h-1zM532 123h1v1h-1zM533 124h1v1h-1zM534 125h1v1h-1zM535 126h1v1h-1zM536 127h1v1h-1zM537 128h1v1h-1zM538 129h1v2h-1zM539 131h1v1h-1zM540 132h1v1h-1zM541 133h1v1h-1zM542 134h1v1h-1zM543 135h1v1h-1zM544 136h1v1h-1zM545 137h1v1h-1zM546 138h1v1h-1zM547 139h1v1h-1zM548 140h1v1h-1zM549 141h1v1h-1zM550 142h1v1h-1zM551 143h1v1h-1zM552 144h1v1h-1zM553 145h1v1h-1zM554 146h1v1h-1zM555 147h1v1h-1zM556 148h1v1h-1zM557 149h1v1h-1zM558 150h1v1h-1zM559 151h1v1h-1zM560 152h1v2h-1zM561 154h1v1h-1zM562 155h1v1h-1zM563 156h1v1h-1zM564 157h1v2h-1zM565 159h1v1h-1zM566 160h1v1h-1zM567 161h1v1h-1zM568 162h1v1h-1zM569 163h1v1h-1zM570 164h1v2h-1zM571 166h1v1h-1zM572 167h1v1h-1zM573 168h1v1h-1zM574 169h1v1h-1zM575 170h1v1h-1zM576 171h2v1h-2zM578 172h1v1h-1zM579 173h1v1h-1zM580 174h2v1h-2zM582 175h1v1h-1zM583 176h2v1h-2zM585 177h1v1h-1zM586 178h2v1h-2zM588 179h2v1h-2zM590 180h1v1h-1zM591 181h2v1h-2zM593 182h1v1h-1zM594 183h2v1h-2zM596 184h2v1h-2zM598 185h1v1h-1zM599 186h2v1h-2zM601 187h1v1h-1zM602 188h2v1h-2zM604 189h2v1h-2zM606 190h2v1h-2zM608 191h4v1h-4zM612 192h4v1h-4zM616 193h2v1h-2zM618 194h3v1h-3zM621 195h2v1h-2zM623 196h2v1h-2zM625 197h1v1h-1zM626 198h2v1h-2zM628 199h2v1h-2zM630 200h1v1h-1zM631 201h1v1h-1zM632 202h1v1h-1zM633 203h1v1h-1zM634 204h1v2h-1zM635 206h1v1h-1zM636 207h1v1h-1zM637 208h1v1h-1zM638 209h1v1h-1zM639 210h1v1h-1zM640 211h1v1h-1zM641 212h1v1h-1zM642 213h1v1h-1zM643 214h1v1h-1zM644 215h1v1h-1zM645 216h1v1h-1zM646 217h1v1h-1zM647 218h1v1h-1zM648 219h1v1h-1zM649 220h1v1h-1zM650 221h1v1h-1zM651 222h1v1h-1zM652 223h1v1h-1zM653 224h1v1h-1zM654 225h1v1h-1zM655 226h1v1h-1zM656 227h1v1h-1zM657 228h1v1h-1zM658 229h1v1h-1zM659 230h1v1h-1zM660 231h1v1h-1zM661 232h1v1h-1zM662 233h1v1h-1zM663 234h1v1h-1zM664 235h2v1h-2zM666 236h1v1h-1zM667 237h1v1h-1zM668 238h2v1h-2zM670 239h1v1h-1zM671 240h2v1h-2zM673 241h1v1h-1zM674 242h2v1h-2zM676 243h2v1h-2zM678 244h1v1h-1zM679 245h1v1h-1zM680 246h2v1h-2zM682 247h1v1h-1zM683 248h1v1h-1zM684 249h2v1h-2zM686 250h1v1h-1zM687 251h2v1h-2zM689 252h1v1h-1zM690 253h2v1h-2zM692 254h2v1h-2zM694 255h1v1h-1zM695 256h2v1h-2zM697 257h1v1h-1zM698 258h2v1h-2zM700 259h2v1h-2zM702 260h1v1h-1zM703 261h2v1h-2zM705 262h1v1h-1zM706 263h2v1h-2zM708 264h2v1h-2zM710 265h1v1h-1zM711 266h2v1h-2zM713 267h1v1h-1zM714 268h2v1h-2zM716 269h2v1h-2zM718 270h1v1h-1zM719 271h2v1h-2zM721 272h2v1h-2zM723 273h2v1h-2zM725 274h3v1h-3zM728 275h2v1h-2zM730 276h3v1h-3zM733 277h2v1h-2zM735 278h2v1h-2zM737 279h2v1h-2zM739 280h2v1h-2zM741 281h2v1h-2zM743 282h2v1h-2zM745 283h2v1h-2zM747 284h2v1h-2zM749 285h2v1h-2zM751 286h2v1h-2zM753 287h1v1h-1zM754 288h2v1h-2zM756 289h2v1h-2zM758 290h2v1h-2zM760 291h2v1h-2zM762 292h3v1h-3zM765 293h2v1h-2zM767 294h2v1h-2zM769 295h2v1h-2zM771 296h2v1h-2zM773 297h3v1h-3zM776 298h2v1h-2zM778 299h3v1h-3zM781 300h3v1h-3zM784 301h4v1h-4zM788 302h4v1h-4zM792 303h2v1h-2zM794 304h3v1h-3zM797 305h3v1h-3zM800 304h4v1h-4zM804 303h14v1h-14zM818 304h6v1h-6zM824 305h4v1h-4zM828 306h12v1h-12zM840 305h2v1h-2zM842 304h3v1h-3zM845 303h3v1h-3zM848 302h4v1h-4zM852 301h14v1h-14zM866 302h6v1h-6zM872 303h4v1h-4zM876 304h4v1h-4zM880 305h4v1h-4zM884 306h6v1h-6zM890 307h8v1h-8zM898 308h5v1h-5zM903 309h2v1h-2zM905 310h2v1h-2zM907 311h2v1h-2zM909 312h3v1h-3zM912 313h2v1h-2zM914 314h3v1h-3zM917 315h2v1h-2zM919 316h2v1h-2zM921 317h2v1h-2zM923 318h2v1h-2zM925 319h2v1h-2zM927 320h2v1h-2zM929 321h2v1h-2zM931 322h2v1h-2zM933 323h2v1h-2zM935 324h2v1h-2zM937 325h1v1h-1zM938 326h2v1h-2zM940 327h2v1h-2zM942 328h1v1h-1zM943 329h1v1h-1zM944 330h1v1h-1zM945 331h1v1h-1zM946 332h2v1h-2zM948 333h1v1h-1zM949 334h1v1h-1zM950 335h1v1h-1zM951 336h1v1h-1zM952 337h1v1h-1zM953 338h1v1h-1zM954 339h2v1h-2zM956 340h1v1h-1zM957 341h1v1h-1zM958 342h1v1h-1zM959 343h1v1h-1zM960 344h2v1h-2zM962 345h1v1h-1zM963 346h1v1h-1zM964 347h2v1h-2zM966 348h1v1h-1zM967 349h1v1h-1zM968 350h2v1h-2zM970 351h1v1h-1zM971 352h1v1h-1zM972 353h2v1h-2zM974 354h1v1h-1zM975 355h2v1h-2zM977 356h2v1h-2zM979 357h2v1h-2zM981 358h2v1h-2zM983 359h2v1h-2zM985 360h2v1h-2zM987 361h2v1h-2zM989 362h2v1h-2zM991 363h2v1h-2zM993 364h1v1h-1zM994 365h2v1h-2zM996 366h2v1h-2zM998 367h1v1h-1zM999 368h1v1h-1zM1000 369h1v1h-1zM1001 370h1v1h-1zM1002 371h2v1h-2zM1004 372h1v1h-1zM1005 373h1v1h-1zM1006 374h1v1h-1zM1007 375h1v1h-1zM1008 376h1v1h-1zM1009 377h1v1h-1zM1010 378h2v1h-2zM1012 379h1v1h-1zM1013 380h1v1h-1zM1014 381h1v1h-1zM1015 382h1v1h-1zM1016 383h1v1h-1zM1017 384h1v1h-1zM1018 385h2v1h-2zM1020 386h1v1h-1zM1021 387h1v1h-1zM1022 388h1v1h-1zM1023 389h2v1h-2zM1025 390h2v1h-2zM1027 391h2v1h-2zM1029 392h5v1h-5zM1034 393h16v1h-16zM1050 392h6v1h-6zM1056 391h2v1h-2zM1058 390h3v1h-3zM1061 389h3v1h-3zM1064 388h4v1h-4zM1068 387h3v1h-3zM1071 386h1v1h-1zM1072 385h2v1h-2zM1074 384h1v1h-1zM1075 383h1v1h-1zM1076 382h2v1h-2zM1078 381h2v1h-2zM1080 380h2v1h-2zM1082 379h3v1h-3zM1085 378h3v1h-3zM1088 377h2v1h-2zM1090 376h3v1h-3zM1093 375h2v1h-2zM1095 374h2v1h-2zM1097 373h1v1h-1zM1098 372h2v1h-2zM1100 371h2v1h-2zM1102 370h1v1h-1zM1103 369h2v1h-2zM1105 368h1v1h-1zM1106 367h2v1h-2zM1108 366h2v1h-2zM1110 365h1v1h-1zM1111 364h1v1h-1zM1112 363h1v1h-1zM1113 362h1v1h-1zM1114 361h2v1h-2zM1116 360h1v1h-1zM1117 359h1v1h-1zM1118 358h1v1h-1zM1119 357h1v1h-1zM1120 356h2v1h-2zM1122 355h1v1h-1zM1123 354h1v1h-1zM1124 353h2v1h-2zM1126 352h1v1h-1zM1127 351h1v1h-1zM1128 350h2v1h-2zM1130 349h1v1h-1zM1131 348h1v1h-1zM1132 347h2v1h-2zM1134 346h1v1h-1zM1135 345h2v1h-2zM1137 344h1v1h-1zM1138 343h2v1h-2zM1140 342h2v1h-2zM1142 341h1v1h-1zM1143 340h2v1h-2zM1145 339h1v1h-1zM1146 338h2v1h-2zM1148 337h2v1h-2zM1150 336h1v1h-1zM1151 335h1v1h-1zM1152 334h2v1h-2zM1154 333h1v1h-1zM1155 332h1v1h-1zM1156 331h2v1h-2zM1158 330h1v1h-1zM1159 329h1v1h-1zM1160 328h1v1h-1zM1161 327h1v1h-1zM1162 325h1v2h-1zM1163 324h1v1h-1zM1164 323h1v1h-1zM1165 322h1v1h-1zM1166 321h1v1h-1zM1167 320h1v1h-1zM1168 318h1v2h-1zM1169 317h1v1h-1zM1170 316h1v1h-1zM1171 315h1v1h-1zM1172 313h1v2h-1zM1173 312h1v1h-1zM1174 311h1v1h-1z" fill="#ff0000"/>
</g>
<g shape-rendering="crispEdges">
<rect x="5" y="54" width="1189" height="2" fill="#ff0000"/>
<rect x="5" y="153" width="1189" height="2" fill="#ff0000"/>
<rect x="5" y="261" width="1189" height="2" fill="#00cc00"/>
<rect x="5" y="361" width="1189" height="2" fill="#4157e4"/>
<rect x="5" y="424" width="1189" height="2" fill="#4157e4"/>
</g>
<g shape-rendering="crispEdges">
<rect x="1194" y="33" width="2" height="1" fill="#000"/>
<rect x="1194" y="66" width="2" height="1" fill="#000"/>
<rect x="1194" y="99" width="2" height="1" fill="#000"/>
<rect x="1194" y="132" width="2" height="1" fill="#000"/>
<rect x="1194" y="165" width="2" height="1" fill="#000"/>
<rect x="1194" y="198" width="2" height="1" fill="#000"/>
<rect x="1194" y="231" width="2" height="1" fill="#000"/>
<rect x="1194" y="264" width="2" height="1" fill="#000"/>
<rect x="1194" y="297" width="2" height="1" fill="#000"/>
<rect x="1194" y="330" width="2" height="1" fill="#000"/>
<rect x="1194" y="363" width="2" height="1" fill="#000"/>
<rect x="1194" y="396" width="2" height="1" fill="#000"/>
<rect x="1194" y="429" width="2" height="1" fill="#000"/>
<rect x="1194" y="462" width="2" height="1" fill="#000"/>
</g>
<text transform="translate(1199,36.6) scale(0.926,1)" font-family='"Liberation Sans", sans-serif' font-size="9.8" fill="#000" stroke="#000" stroke-width="0.25">116.180</text>
<text transform="translate(1199,69.6) scale(0.926,1)" font-family='"Liberation Sans", sans-serif' font-size="9.8" fill="#000" stroke="#000" stroke-width="0.25">114.365</text>
<text transform="translate(1199,102.6) scale(0.926,1)" font-family='"Liberation Sans", sans-serif' font-size="9.8" fill="#000" stroke="#000" stroke-width="0.25">112.550</text>
<text transform="translate(1199,135.6) scale(0.926,1)" font-family='"Liberation Sans", sans-serif' font-size="9.8" fill="#000" stroke="#000" stroke-width="0.25">110.735</text>
<text transform="translate(1199,168.6) scale(0.926,1)" font-family='"Liberation Sans", sans-serif' font-size="9.8" fill="#000" stroke="#000" stroke-width="0.25">108.920</text>
<text transform="translate(1199,201.6) scale(0.926,1)" font-family='"Liberation Sans", sans-serif' font-size="9.8" fill="#000" stroke="#000" stroke-width="0.25">107.050</text>
<text transform="translate(1199,234.6) scale(0.926,1)" font-family='"Liberation Sans", sans-serif' font-size="9.8" fill="#000" stroke="#000" stroke-width="0.25">105.235</text>
<text transform="translate(1199,267.6) scale(0.926,1)" font-family='"Liberation Sans", sans-serif' font-size="9.8" fill="#000" stroke="#000" stroke-width="0.25">103.420</text>
<text transform="translate(1199,300.6) scale(0.926,1)" font-family='"Liberation Sans", sans-serif' font-size="9.8" fill="#000" stroke="#000" stroke-width="0.25">101.605</text>
<text transform="translate(1199,333.6) scale(0.926,1)" font-family='"Liberation Sans", sans-serif' font-size="9.8" fill="#000" stroke="#000" stroke-width="0.25">99.735</text>
<text transform="translate(1199,366.6) scale(0.926,1)" font-family='"Liberation Sans", sans-serif' font-size="9.8" fill="#000" stroke="#000" stroke-width="0.25">97.920</text>
<text transform="translate(1199,399.6) scale(0.926,1)" font-family='"Liberation Sans", sans-serif' font-size="9.8" fill="#000" stroke="#000" stroke-width="0.25">96.105</text>
<text transform="translate(1199,432.6) scale(0.926,1)" font-family='"Liberation Sans", sans-serif' font-size="9.8" fill="#000" stroke="#000" stroke-width="0.25">94.290</text>
<text transform="translate(1199,465.6) scale(0.926,1)" font-family='"Liberation Sans", sans-serif' font-size="9.8" fill="#000" stroke="#000" stroke-width="0.25">92.475</text>
<g shape-rendering="crispEdges">
<rect x="1196" y="49" width="39" height="11" fill="#ff0000"/>
<rect x="1196" y="148" width="39" height="11" fill="#ff0000"/>
<rect x="1196" y="256" width="39" height="11" fill="#00cc00"/>
<rect x="1196" y="356" width="34" height="11" fill="#4157e4"/>
<rect x="1196" y="419" width="34" height="11" fill="#4157e4"/>
<rect x="1196" y="204" width="39" height="11" fill="#000"/>
</g>
<text transform="translate(1199,57.8) scale(0.926,1)" font-family='"Liberation Sans", sans-serif' font-size="9.8" fill="#fff" stroke="#fff" stroke-width="0.25">115.000</text>
<text transform="translate(1199,156.8) scale(0.926,1)" font-family='"Liberation Sans", sans-serif' font-size="9.8" fill="#fff" stroke="#fff" stroke-width="0.25">109.500</text>
<text transform="translate(1199,264.8) scale(0.926,1)" font-family='"Liberation Sans", sans-serif' font-size="9.8" fill="#fff" stroke="#fff" stroke-width="0.25">103.500</text>
<text transform="translate(1199,364.8) scale(0.926,1)" font-family='"Liberation Sans", sans-serif' font-size="9.8" fill="#fff" stroke="#fff" stroke-width="0.25">98.000</text>
<text transform="translate(1199,427.8) scale(0.926,1)" font-family='"Liberation Sans", sans-serif' font-size="9.8" fill="#fff" stroke="#fff" stroke-width="0.25">94.500</text>
<text transform="translate(1199,212.6) scale(0.926,1)" font-family='"Liberation Sans", sans-serif' font-size="9.8" fill="#fff" stroke="#fff" stroke-width="0.25">106.472</text>
<path d="M9 10h7l-3.5 4z" fill="#000"/>
<text transform="translate(20.4,14.9) scale(0.987,1)" font-family='"Liberation Sans", sans-serif' font-size="9.8" fill="#000" stroke="#000" stroke-width="0.25">USOil-,H4</text>
<text transform="translate(70.3,14.9) scale(0.926,1)" font-family='"Liberation Sans", sans-serif' font-size="9.8" fill="#000" stroke="#000" stroke-width="0.25">106.211</text>
<text transform="translate(106.3,14.9) scale(0.926,1)" font-family='"Liberation Sans", sans-serif' font-size="9.8" fill="#000" stroke="#000" stroke-width="0.25">106.582</text>
<text transform="translate(142.3,14.9) scale(0.926,1)" font-family='"Liberation Sans", sans-serif' font-size="9.8" fill="#000" stroke="#000" stroke-width="0.25">106.128</text>
<text transform="translate(178.3,14.9) scale(0.926,1)" font-family='"Liberation Sans", sans-serif' font-size="9.8" fill="#000" stroke="#000" stroke-width="0.25">106.472</text>
<text fill="#ff0808" font-family='"Liberation Sans", "Noto Sans CJK SC", sans-serif'><tspan x="731.5" y="114" font-size="35" font-weight="400">多空转折点</tspan><tspan x="902.7" y="113" font-size="36.5" letter-spacing="-0.75">103.5</tspan></text>
<g shape-rendering="crispEdges">
<rect x="6" y="505" width="1" height="30" fill="#c0c0c0"/>
<rect x="14" y="505" width="1" height="33" fill="#c0c0c0"/>
<rect x="22" y="505" width="1" height="37" fill="#c0c0c0"/>
<rect x="30" y="505" width="1" height="39" fill="#c0c0c0"/>
<rect x="38" y="505" width="1" height="41" fill="#c0c0c0"/>
<rect x="46" y="505" width="1" height="44" fill="#c0c0c0"/>
<rect x="54" y="505" width="1" height="48" fill="#c0c0c0"/>
<rect x="62" y="505" width="1" height="52" fill="#c0c0c0"/>
<rect x="70" y="505" width="1" height="54" fill="#c0c0c0"/>
<rect x="78" y="505" width="1" height="56" fill="#c0c0c0"/>
<rect x="86" y="505" width="1" height="56" fill="#c0c0c0"/>
<rect x="94" y="505" width="1" height="54" fill="#c0c0c0"/>
<rect x="102" y="505" width="1" height="52" fill="#c0c0c0"/>
<rect x="110" y="505" width="1" height="50" fill="#c0c0c0"/>
<rect x="118" y="505" width="1" height="48" fill="#c0c0c0"/>
<rect x="126" y="505" width="1" height="45" fill="#c0c0c0"/>
<rect x="134" y="505" width="1" height="43" fill="#c0c0c0"/>
<rect x="142" y="505" width="1" height="40" fill="#c0c0c0"/>
<rect x="150" y="505" width="1" height="34" fill="#c0c0c0"/>
<rect x="158" y="505" width="1" height="26" fill="#c0c0c0"/>
<rect x="166" y="505" width="1" height="20" fill="#c0c0c0"/>
<rect x="174" y="505" width="1" height="16" fill="#c0c0c0"/>
<rect x="182" y="505" width="1" height="11" fill="#c0c0c0"/>
<rect x="190" y="505" width="1" height="7" fill="#c0c0c0"/>
<rect x="198" y="505" width="1" height="5" fill="#c0c0c0"/>
<rect x="206" y="505" width="1" height="3" fill="#c0c0c0"/>
<rect x="214" y="505" width="1" height="3" fill="#c0c0c0"/>
<rect x="222" y="505" width="1" height="2" fill="#c0c0c0"/>
<rect x="230" y="505" width="1" height="1" fill="#c0c0c0"/>
<rect x="238" y="504" width="1" height="1" fill="#c0c0c0"/>
<rect x="246" y="500" width="1" height="5" fill="#c0c0c0"/>
<rect x="254" y="496" width="1" height="9" fill="#c0c0c0"/>
<rect x="262" y="493" width="1" height="12" fill="#c0c0c0"/>
<rect x="270" y="489" width="1" height="16" fill="#c0c0c0"/>
<rect x="278" y="484" width="1" height="21" fill="#c0c0c0"/>
<rect x="286" y="480" width="1" height="25" fill="#c0c0c0"/>
<rect x="294" y="477" width="1" height="28" fill="#c0c0c0"/>
<rect x="302" y="475" width="1" height="30" fill="#c0c0c0"/>
<rect x="310" y="476" width="1" height="29" fill="#c0c0c0"/>
<rect x="318" y="478" width="1" height="27" fill="#c0c0c0"/>
<rect x="326" y="480" width="1" height="25" fill="#c0c0c0"/>
<rect x="334" y="481" width="1" height="24" fill="#c0c0c0"/>
<rect x="342" y="481" width="1" height="24" fill="#c0c0c0"/>
<rect x="350" y="481" width="1" height="24" fill="#c0c0c0"/>
<rect x="358" y="480" width="1" height="25" fill="#c0c0c0"/>
<rect x="366" y="477" width="1" height="28" fill="#c0c0c0"/>
<rect x="374" y="476" width="1" height="29" fill="#c0c0c0"/>
<rect x="382" y="474" width="1" height="31" fill="#c0c0c0"/>
<rect x="390" y="474" width="1" height="31" fill="#c0c0c0"/>
<rect x="398" y="474" width="1" height="31" fill="#c0c0c0"/>
<rect x="406" y="474" width="1" height="31" fill="#c0c0c0"/>
<rect x="414" y="476" width="1" height="29" fill="#c0c0c0"/>
<rect x="422" y="480" width="1" height="25" fill="#c0c0c0"/>
<rect x="430" y="483" width="1" height="22" fill="#c0c0c0"/>
<rect x="438" y="484" width="1" height="21" fill="#c0c0c0"/>
<rect x="446" y="488" width="1" height="17" fill="#c0c0c0"/>
<rect x="454" y="491" width="1" height="14" fill="#c0c0c0"/>
<rect x="462" y="491" width="1" height="14" fill="#c0c0c0"/>
<rect x="470" y="491" width="1" height="14" fill="#c0c0c0"/>
<rect x="478" y="492" width="1" height="13" fill="#c0c0c0"/>
<rect x="486" y="494" width="1" height="11" fill="#c0c0c0"/>
<rect x="494" y="497" width="1" height="8" fill="#c0c0c0"/>
<rect x="502" y="500" width="1" height="5" fill="#c0c0c0"/>
<rect x="510" y="504" width="1" height="1" fill="#c0c0c0"/>
<rect x="518" y="505" width="1" height="1" fill="#c0c0c0"/>
<rect x="526" y="505" width="1" height="7" fill="#c0c0c0"/>
<rect x="534" y="505" width="1" height="13" fill="#c0c0c0"/>
<rect x="542" y="505" width="1" height="15" fill="#c0c0c0"/>
<rect x="550" y="505" width="1" height="16" fill="#c0c0c0"/>
<rect x="558" y="505" width="1" height="19" fill="#c0c0c0"/>
<rect x="566" y="505" width="1" height="22" fill="#c0c0c0"/>
<rect x="574" y="505" width="1" height="22" fill="#c0c0c0"/>
<rect x="582" y="505" width="1" height="19" fill="#c0c0c0"/>
<rect x="590" y="505" width="1" height="17" fill="#c0c0c0"/>
<rect x="598" y="505" width="1" height="17" fill="#c0c0c0"/>
<rect x="606" y="505" width="1" height="16" fill="#c0c0c0"/>
<rect x="614" y="505" width="1" height="13" fill="#c0c0c0"/>
<rect x="622" y="505" width="1" height="11" fill="#c0c0c0"/>
<rect x="630" y="505" width="1" height="9" fill="#c0c0c0"/>
<rect x="638" y="505" width="1" height="14" fill="#c0c0c0"/>
<rect x="646" y="505" width="1" height="16" fill="#c0c0c0"/>
<rect x="654" y="505" width="1" height="17" fill="#c0c0c0"/>
<rect x="662" y="505" width="1" height="17" fill="#c0c0c0"/>
<rect x="670" y="505" width="1" height="19" fill="#c0c0c0"/>
<rect x="678" y="505" width="1" height="22" fill="#c0c0c0"/>
<rect x="686" y="505" width="1" height="24" fill="#c0c0c0"/>
<rect x="694" y="505" width="1" height="26" fill="#c0c0c0"/>
<rect x="702" y="505" width="1" height="27" fill="#c0c0c0"/>
<rect x="710" y="505" width="1" height="27" fill="#c0c0c0"/>
<rect x="718" y="505" width="1" height="27" fill="#c0c0c0"/>
<rect x="726" y="505" width="1" height="27" fill="#c0c0c0"/>
<rect x="734" y="505" width="1" height="27" fill="#c0c0c0"/>
<rect x="742" y="505" width="1" height="26" fill="#c0c0c0"/>
<rect x="750" y="505" width="1" height="25" fill="#c0c0c0"/>
<rect x="758" y="505" width="1" height="23" fill="#c0c0c0"/>
<rect x="766" y="505" width="1" height="19" fill="#c0c0c0"/>
<rect x="774" y="505" width="1" height="16" fill="#c0c0c0"/>
<rect x="782" y="505" width="1" height="11" fill="#c0c0c0"/>
<rect x="790" y="505" width="1" height="7" fill="#c0c0c0"/>
<rect x="798" y="505" width="1" height="5" fill="#c0c0c0"/>
<rect x="806" y="505" width="1" height="3" fill="#c0c0c0"/>
<rect x="814" y="505" width="1" height="2" fill="#c0c0c0"/>
<rect x="822" y="505" width="1" height="5" fill="#c0c0c0"/>
<rect x="830" y="505" width="1" height="5" fill="#c0c0c0"/>
<rect x="838" y="505" width="1" height="5" fill="#c0c0c0"/>
<rect x="846" y="505" width="1" height="4" fill="#c0c0c0"/>
<rect x="854" y="505" width="1" height="3" fill="#c0c0c0"/>
<rect x="862" y="505" width="1" height="5" fill="#c0c0c0"/>
<rect x="870" y="505" width="1" height="9" fill="#c0c0c0"/>
<rect x="878" y="505" width="1" height="13" fill="#c0c0c0"/>
<rect x="886" y="505" width="1" height="15" fill="#c0c0c0"/>
<rect x="894" y="505" width="1" height="17" fill="#c0c0c0"/>
<rect x="902" y="505" width="1" height="17" fill="#c0c0c0"/>
<rect x="910" y="505" width="1" height="21" fill="#c0c0c0"/>
<rect x="918" y="505" width="1" height="21" fill="#c0c0c0"/>
<rect x="926" y="505" width="1" height="21" fill="#c0c0c0"/>
<rect x="934" y="505" width="1" height="21" fill="#c0c0c0"/>
<rect x="942" y="505" width="1" height="20" fill="#c0c0c0"/>
<rect x="950" y="505" width="1" height="19" fill="#c0c0c0"/>
<rect x="958" y="505" width="1" height="19" fill="#c0c0c0"/>
<rect x="966" y="505" width="1" height="17" fill="#c0c0c0"/>
<rect x="974" y="505" width="1" height="15" fill="#c0c0c0"/>
<rect x="982" y="505" width="1" height="14" fill="#c0c0c0"/>
<rect x="990" y="505" width="1" height="17" fill="#c0c0c0"/>
<rect x="998" y="505" width="1" height="17" fill="#c0c0c0"/>
<rect x="1006" y="505" width="1" height="17" fill="#c0c0c0"/>
<rect x="1014" y="505" width="1" height="17" fill="#c0c0c0"/>
<rect x="1022" y="505" width="1" height="17" fill="#c0c0c0"/>
<rect x="1030" y="505" width="1" height="17" fill="#c0c0c0"/>
<rect x="1038" y="505" width="1" height="16" fill="#c0c0c0"/>
<rect x="1046" y="505" width="1" height="13" fill="#c0c0c0"/>
<rect x="1054" y="505" width="1" height="11" fill="#c0c0c0"/>
<rect x="1062" y="505" width="1" height="6" fill="#c0c0c0"/>
<rect x="1070" y="505" width="1" height="2" fill="#c0c0c0"/>
<rect x="1078" y="504" width="1" height="1" fill="#c0c0c0"/>
<rect x="1086" y="502" width="1" height="3" fill="#c0c0c0"/>
<rect x="1094" y="500" width="1" height="5" fill="#c0c0c0"/>
<rect x="1102" y="498" width="1" height="7" fill="#c0c0c0"/>
<rect x="1110" y="495" width="1" height="10" fill="#c0c0c0"/>
<rect x="1118" y="491" width="1" height="14" fill="#c0c0c0"/>
<rect x="1126" y="489" width="1" height="16" fill="#c0c0c0"/>
<rect x="1134" y="488" width="1" height="17" fill="#c0c0c0"/>
<rect x="1142" y="488" width="1" height="17" fill="#c0c0c0"/>
<rect x="1150" y="488" width="1" height="17" fill="#c0c0c0"/>
<rect x="1158" y="488" width="1" height="17" fill="#c0c0c0"/>
<rect x="1166" y="485" width="1" height="20" fill="#c0c0c0"/>
<rect x="1174" y="483" width="1" height="22" fill="#c0c0c0"/>
<path d="M6 535h3v1h-3zM12 535h5v1h-5zM20 536h5v1h-5zM28 537h5v1h-5zM36 538h4v1h-4zM40 539h1v1h-1zM44 540h4v1h-4zM48 541h1v1h-1zM52 542h4v1h-4zM56 543h1v1h-1zM60 544h4v1h-4zM64 545h1v1h-1zM68 546h1v1h-1zM69 547h3v1h-3zM72 548h1v1h-1zM76 549h1v1h-1zM77 550h3v1h-3zM80 551h1v1h-1zM84 552h4v1h-4zM88 553h1v1h-1zM92 554h4v1h-4zM96 555h1v1h-1zM100 556h5v1h-5zM108 557h5v1h-5zM116 557h5v1h-5zM124 556h5v1h-5zM132 555h5v1h-5zM140 554h4v1h-4zM144 553h1v1h-1zM148 552h5v1h-5zM156 551h4v1h-4zM160 550h1v1h-1zM164 549h1v1h-1zM165 548h2v1h-2zM167 547h2v1h-2zM172 545h1v1h-1zM173 544h2v1h-2zM175 543h2v1h-2zM180 541h1v1h-1zM181 540h2v1h-2zM183 539h2v1h-2zM188 537h1v1h-1zM189 536h2v1h-2zM191 535h2v1h-2zM196 533h1v1h-1zM197 532h2v1h-2zM199 531h2v1h-2zM204 529h1v1h-1zM205 528h2v1h-2zM207 527h2v1h-2zM212 524h2v1h-2zM214 523h1v1h-1zM215 522h2v1h-2zM220 520h1v1h-1zM221 519h2v1h-2zM223 518h2v1h-2zM228 516h1v1h-1zM229 515h3v1h-3zM232 514h1v1h-1zM236 513h1v1h-1zM237 512h3v1h-3zM240 511h1v1h-1zM244 510h1v1h-1zM245 509h3v1h-3zM248 508h1v1h-1zM252 507h1v1h-1zM253 506h3v1h-3zM256 505h1v1h-1zM260 504h1v1h-1zM261 503h3v1h-3zM264 502h1v1h-1zM268 501h1v1h-1zM269 500h3v1h-3zM272 499h1v1h-1zM276 498h1v1h-1zM277 497h3v1h-3zM280 496h1v1h-1zM284 495h1v1h-1zM285 494h3v1h-3zM288 493h1v1h-1zM292 492h1v1h-1zM293 491h3v1h-3zM296 490h1v1h-1zM300 489h1v1h-1zM301 488h2v1h-2zM303 487h2v1h-2zM308 485h1v1h-1zM309 484h3v1h-3zM312 483h1v1h-1zM316 482h4v1h-4zM320 481h1v1h-1zM324 480h5v1h-5zM332 479h5v1h-5zM340 478h5v1h-5zM348 478h5v1h-5zM356 478h5v1h-5zM364 478h5v1h-5zM372 478h5v1h-5zM380 477h5v1h-5zM388 477h5v1h-5zM396 477h5v1h-5zM404 476h5v1h-5zM412 476h5v1h-5zM420 475h5v1h-5zM428 476h5v1h-5zM436 476h5v1h-5zM444 477h4v1h-4zM448 478h1v1h-1zM452 479h1v1h-1zM453 480h4v1h-4zM460 481h4v1h-4zM464 482h1v1h-1zM468 483h5v1h-5zM476 484h4v1h-4zM480 485h1v1h-1zM484 486h4v1h-4zM488 487h1v1h-1zM492 488h4v1h-4zM496 489h1v1h-1zM500 490h4v1h-4zM504 491h1v1h-1zM508 492h4v1h-4zM512 493h1v1h-1zM516 494h4v1h-4zM520 495h1v1h-1zM524 496h1v1h-1zM525 497h3v1h-3zM528 498h1v1h-1zM532 499h1v1h-1zM533 500h2v1h-2zM535 501h2v1h-2zM540 503h1v1h-1zM541 504h3v1h-3zM544 505h1v1h-1zM548 506h1v1h-1zM549 507h3v1h-3zM552 508h1v1h-1zM556 509h1v1h-1zM557 510h2v1h-2zM559 511h2v1h-2zM564 513h1v1h-1zM565 514h3v1h-3zM568 515h1v1h-1zM572 516h1v1h-1zM573 517h3v1h-3zM576 518h1v1h-1zM580 519h1v1h-1zM581 520h3v1h-3zM584 521h1v1h-1zM588 522h5v1h-5zM596 522h5v1h-5zM604 523h5v1h-5zM612 523h5v1h-5zM620 523h4v1h-4zM624 522h1v1h-1zM628 521h5v1h-5zM636 520h5v1h-5zM644 520h5v1h-5zM652 520h5v1h-5zM660 520h5v1h-5zM668 520h5v1h-5zM676 520h4v1h-4zM680 521h1v1h-1zM684 522h5v1h-5zM692 523h5v1h-5zM700 524h4v1h-4zM704 525h1v1h-1zM708 526h1v1h-1zM709 527h4v1h-4zM716 528h5v1h-5zM724 529h4v1h-4zM728 530h1v1h-1zM732 531h5v1h-5zM740 531h5v1h-5zM748 532h5v1h-5zM756 531h5v1h-5zM764 531h5v1h-5zM772 530h4v1h-4zM776 529h1v1h-1zM780 528h4v1h-4zM784 527h1v1h-1zM788 526h4v1h-4zM792 525h1v1h-1zM796 524h1v1h-1zM797 523h3v1h-3zM800 522h1v1h-1zM804 521h1v1h-1zM805 520h3v1h-3zM808 519h1v1h-1zM812 518h1v1h-1zM813 517h3v1h-3zM816 516h1v1h-1zM820 515h4v1h-4zM824 514h1v1h-1zM828 513h5v1h-5zM836 512h4v1h-4zM840 511h1v1h-1zM844 510h5v1h-5zM852 509h5v1h-5zM860 509h5v1h-5zM868 510h5v1h-5zM876 511h5v1h-5zM884 512h5v1h-5zM892 513h4v1h-4zM896 514h1v1h-1zM900 515h4v1h-4zM904 516h1v1h-1zM908 517h4v1h-4zM912 518h1v1h-1zM916 519h4v1h-4zM920 520h1v1h-1zM924 521h5v1h-5zM932 522h4v1h-4zM936 523h1v1h-1zM940 524h5v1h-5zM948 524h5v1h-5zM956 525h5v1h-5zM964 525h5v1h-5zM972 524h5v1h-5zM980 524h5v1h-5zM988 523h5v1h-5zM996 523h5v1h-5zM1004 523h5v1h-5zM1012 522h5v1h-5zM1020 522h5v1h-5zM1028 522h5v1h-5zM1036 522h5v1h-5zM1044 522h5v1h-5zM1052 521h5v1h-5zM1060 520h5v1h-5zM1068 519h4v1h-4zM1072 518h1v1h-1zM1076 517h1v1h-1zM1077 516h3v1h-3zM1080 515h1v1h-1zM1084 514h1v1h-1zM1085 513h3v1h-3zM1088 512h1v1h-1zM1092 511h4v1h-4zM1096 510h1v1h-1zM1100 509h1v1h-1zM1101 508h3v1h-3zM1104 507h1v1h-1zM1108 506h1v1h-1zM1109 505h3v1h-3zM1112 504h1v1h-1zM1116 503h1v1h-1zM1117 502h3v1h-3zM1120 501h1v1h-1zM1124 500h1v1h-1zM1125 499h3v1h-3zM1128 498h1v1h-1zM1132 497h1v1h-1zM1133 496h3v1h-3zM1136 495h1v1h-1zM1140 494h4v1h-4zM1144 493h1v1h-1zM1148 492h5v1h-5zM1156 491h4v1h-4zM1160 490h1v1h-1zM1164 489h4v1h-4zM1168 488h1v1h-1zM1172 487h3v1h-3z" fill="#ff0000"/>
<rect x="1194" y="469" width="1" height="1" fill="#000"/>
<rect x="1194" y="505" width="1" height="1" fill="#000"/>
<rect x="1194" y="564" width="1" height="1" fill="#000"/>
</g>
<text transform="translate(9.6,479.9) scale(0.959,1)" font-family='"Liberation Sans", sans-serif' font-size="9.8" fill="#000" stroke="#000" stroke-width="0.25">MACD(12,26,9) 1.8962 1.4600</text>
<text transform="translate(1196.3,477.3) scale(0.926,1)" font-family='"Liberation Sans", sans-serif' font-size="9.8" fill="#000" stroke="#000" stroke-width="0.25">2.9923</text>
<text transform="translate(1196.3,508.3) scale(0.926,1)" font-family='"Liberation Sans", sans-serif' font-size="9.8" fill="#000" stroke="#000" stroke-width="0.25">0.00</text>
<text transform="translate(1196.8,563) scale(0.926,1)" font-family='"Liberation Sans", sans-serif' font-size="9.8" fill="#000" stroke="#000" stroke-width="0.25">-4.9146</text>
<g shape-rendering="crispEdges">
<line x1="7" y1="599.5" x2="1193" y2="599.5" stroke="#c0c0c0" stroke-width="1" stroke-dasharray="3 3"/>
<line x1="7" y1="639.5" x2="1193" y2="639.5" stroke="#c0c0c0" stroke-width="1" stroke-dasharray="3 3"/>
<path d="M6 631h2v1h-2zM8 632h4v1h-4zM12 633h4v1h-4zM16 634h2v1h-2zM18 635h3v1h-3zM21 636h5v1h-5zM26 635h8v1h-8zM34 636h6v1h-6zM40 637h2v1h-2zM42 638h3v1h-3zM45 639h3v1h-3zM48 640h2v1h-2zM50 641h3v1h-3zM53 642h3v1h-3zM56 643h4v1h-4zM60 644h4v1h-4zM64 643h2v1h-2zM66 642h3v1h-3zM69 641h5v1h-5zM74 642h6v1h-6zM80 641h4v1h-4zM84 640h3v1h-3zM87 639h2v1h-2zM89 638h2v1h-2zM91 637h2v1h-2zM93 636h2v1h-2zM95 635h2v1h-2zM97 634h2v1h-2zM99 633h2v1h-2zM101 632h3v1h-3zM104 633h4v1h-4zM108 634h6v1h-6zM114 633h6v1h-6zM120 634h2v1h-2zM122 635h3v1h-3zM125 636h2v1h-2zM127 635h2v1h-2zM129 634h2v1h-2zM131 633h2v1h-2zM133 632h5v1h-5zM138 631h5v1h-5zM143 630h2v1h-2zM145 629h2v1h-2zM147 628h2v1h-2zM149 627h2v1h-2zM151 626h1v1h-1zM152 625h1v1h-1zM153 624h1v1h-1zM154 623h2v1h-2zM156 622h1v1h-1zM157 621h1v1h-1zM158 620h1v1h-1zM159 619h1v1h-1zM160 618h2v1h-2zM162 617h1v1h-1zM163 616h1v1h-1zM164 615h2v1h-2zM166 614h10v1h-10zM176 615h2v1h-2zM178 616h3v1h-3zM181 617h2v1h-2zM183 616h2v1h-2zM185 615h2v1h-2zM187 614h2v1h-2zM189 613h3v1h-3zM192 614h4v1h-4zM196 615h4v1h-4zM200 616h4v1h-4zM204 617h14v1h-14zM218 616h8v1h-8zM226 615h5v1h-5zM231 614h2v1h-2zM233 613h2v1h-2zM235 612h2v1h-2zM237 611h3v1h-3zM240 610h2v1h-2zM242 609h3v1h-3zM245 608h3v1h-3zM248 607h4v1h-4zM252 606h6v1h-6zM258 605h5v1h-5zM263 604h2v1h-2zM265 603h2v1h-2zM267 602h2v1h-2zM269 601h3v1h-3zM272 600h2v1h-2zM274 599h3v1h-3zM277 598h3v1h-3zM280 597h4v1h-4zM284 596h12v1h-12zM296 597h2v1h-2zM298 598h3v1h-3zM301 599h2v1h-2zM303 600h1v1h-1zM304 601h1v1h-1zM305 602h1v1h-1zM306 603h2v1h-2zM308 604h1v1h-1zM309 605h1v1h-1zM310 606h1v1h-1zM311 607h2v1h-2zM313 608h1v1h-1zM314 609h2v1h-2zM316 610h2v1h-2zM318 611h4v1h-4zM322 610h8v1h-8zM330 611h5v1h-5zM335 610h2v1h-2zM337 609h1v1h-1zM338 608h2v1h-2zM340 607h2v1h-2zM342 606h4v1h-4zM346 607h5v1h-5zM351 606h2v1h-2zM353 605h2v1h-2zM355 604h2v1h-2zM357 603h2v1h-2zM359 602h2v1h-2zM361 601h1v1h-1zM362 600h2v1h-2zM364 599h2v1h-2zM366 598h4v1h-4zM370 599h14v1h-14zM384 600h2v1h-2zM386 601h3v1h-3zM389 602h3v1h-3zM392 601h4v1h-4zM396 600h11v1h-11zM407 601h1v2h-1zM408 603h1v1h-1zM409 604h1v1h-1zM410 605h1v2h-1zM411 607h1v1h-1zM412 608h1v1h-1zM413 609h1v2h-1zM414 611h1v1h-1zM415 612h2v1h-2zM417 613h2v1h-2zM419 614h2v1h-2zM421 615h3v1h-3zM424 614h4v1h-4zM428 613h6v1h-6zM434 612h5v1h-5zM439 613h2v1h-2zM441 614h1v1h-1zM442 615h2v1h-2zM444 616h2v1h-2zM446 617h1v1h-1zM447 618h2v1h-2zM449 619h2v1h-2zM451 620h2v1h-2zM453 621h2v1h-2zM455 620h1v1h-1zM456 618h1v2h-1zM457 617h1v1h-1zM458 616h1v1h-1zM459 615h1v1h-1zM460 613h1v2h-1zM461 612h1v1h-1zM462 611h4v1h-4zM466 612h13v1h-13zM479 613h1v1h-1zM480 614h1v1h-1zM481 615h1v1h-1zM482 616h2v1h-2zM484 617h1v1h-1zM485 618h1v1h-1zM486 619h2v1h-2zM488 620h4v1h-4zM492 621h4v1h-4zM496 622h2v1h-2zM498 623h3v1h-3zM501 624h2v1h-2zM503 625h2v1h-2zM505 626h2v1h-2zM507 627h2v1h-2zM509 628h3v1h-3zM512 629h4v1h-4zM516 630h3v1h-3zM519 631h1v1h-1zM520 632h1v1h-1zM521 633h1v1h-1zM522 634h1v2h-1zM523 636h1v1h-1zM524 637h1v1h-1zM525 638h1v1h-1zM526 639h2v1h-2zM528 638h2v1h-2zM530 637h3v1h-3zM533 636h3v1h-3zM536 635h2v1h-2zM538 634h3v1h-3zM541 633h2v1h-2zM543 632h1v1h-1zM544 631h2v1h-2zM546 630h1v1h-1zM547 629h1v1h-1zM548 628h2v1h-2zM550 627h1v1h-1zM551 628h1v1h-1zM552 629h2v1h-2zM554 630h1v1h-1zM555 631h1v1h-1zM556 632h2v1h-2zM558 633h2v1h-2zM560 634h2v1h-2zM562 635h3v1h-3zM565 636h2v1h-2zM567 635h1v1h-1zM568 633h1v2h-1zM569 632h1v1h-1zM570 631h1v1h-1zM571 630h1v1h-1zM572 628h1v2h-1zM573 627h1v1h-1zM574 626h2v1h-2zM576 625h2v1h-2zM578 624h3v1h-3zM581 623h3v1h-3zM584 624h2v1h-2zM586 625h3v1h-3zM589 626h2v1h-2zM591 625h2v1h-2zM593 624h2v1h-2zM595 623h2v1h-2zM597 622h10v1h-10zM607 621h2v1h-2zM609 620h1v1h-1zM610 619h2v1h-2zM612 618h2v1h-2zM614 617h2v1h-2zM616 618h2v1h-2zM618 619h3v1h-3zM621 620h3v1h-3zM624 619h4v1h-4zM628 618h3v1h-3zM631 619h1v2h-1zM632 621h1v2h-1zM633 623h1v2h-1zM634 625h1v1h-1zM635 626h1v2h-1zM636 628h1v2h-1zM637 630h1v2h-1zM638 632h2v1h-2zM640 631h2v1h-2zM642 630h3v1h-3zM645 629h3v1h-3zM648 630h4v1h-4zM652 631h3v1h-3zM655 630h1v1h-1zM656 629h2v1h-2zM658 628h1v1h-1zM659 627h1v1h-1zM660 626h2v1h-2zM662 625h1v1h-1zM663 626h1v1h-1zM664 627h2v1h-2zM666 628h1v1h-1zM667 629h1v1h-1zM668 630h2v1h-2zM670 631h4v1h-4zM674 630h6v1h-6zM680 631h4v1h-4zM684 632h4v1h-4zM688 633h4v1h-4zM692 634h11v1h-11zM703 633h2v1h-2zM705 632h2v1h-2zM707 631h2v1h-2zM709 630h5v1h-5zM714 631h14v1h-14zM728 632h4v1h-4zM732 633h3v1h-3zM735 632h2v1h-2zM737 631h1v1h-1zM738 630h2v1h-2zM740 629h2v1h-2zM742 628h2v1h-2zM744 627h4v1h-4zM748 626h4v1h-4zM752 625h4v1h-4zM756 624h3v1h-3zM759 623h2v1h-2zM761 622h2v1h-2zM763 621h2v1h-2zM765 620h2v1h-2zM767 619h2v1h-2zM769 618h1v1h-1zM770 617h2v1h-2zM772 616h2v1h-2zM774 615h2v1h-2zM776 614h2v1h-2zM778 613h3v1h-3zM781 612h11v1h-11zM792 613h4v1h-4zM796 614h11v1h-11zM807 615h1v1h-1zM808 616h2v1h-2zM810 617h1v1h-1zM811 618h1v1h-1zM812 619h2v1h-2zM814 620h1v1h-1zM815 621h1v1h-1zM816 622h1v1h-1zM817 623h1v1h-1zM818 624h2v1h-2zM820 625h1v1h-1zM821 626h1v1h-1zM822 627h2v1h-2zM824 626h2v1h-2zM826 625h3v1h-3zM829 624h3v1h-3zM832 623h2v1h-2zM834 622h3v1h-3zM837 621h3v1h-3zM840 620h2v1h-2zM842 619h3v1h-3zM845 618h5v1h-5zM850 617h5v1h-5zM855 618h1v2h-1zM856 620h1v1h-1zM857 621h1v1h-1zM858 622h1v2h-1zM859 624h1v1h-1zM860 625h1v1h-1zM861 626h1v2h-1zM862 628h1v1h-1zM863 629h2v1h-2zM865 630h1v1h-1zM866 631h2v1h-2zM868 632h2v1h-2zM870 633h4v1h-4zM874 634h6v1h-6zM880 633h2v1h-2zM882 632h3v1h-3zM885 631h3v1h-3zM888 632h4v1h-4zM892 633h3v1h-3zM895 632h1v1h-1zM896 631h2v1h-2zM898 630h1v1h-1zM899 629h1v1h-1zM900 628h2v1h-2zM902 627h1v1h-1zM903 628h1v1h-1zM904 629h1v1h-1zM905 630h1v1h-1zM906 631h1v1h-1zM907 632h1v1h-1zM908 633h1v1h-1zM909 634h1v1h-1zM910 635h1v1h-1zM911 634h1v1h-1zM912 633h1v1h-1zM913 632h1v1h-1zM914 631h1v1h-1zM915 630h1v1h-1zM916 629h1v1h-1zM917 628h1v1h-1zM918 627h10v1h-10zM928 628h2v1h-2zM930 629h3v1h-3zM933 630h2v1h-2zM935 629h2v1h-2zM937 628h1v1h-1zM938 627h2v1h-2zM940 626h2v1h-2zM942 625h2v1h-2zM944 626h4v1h-4zM948 627h6v1h-6zM954 626h5v1h-5zM959 625h2v1h-2zM961 624h2v1h-2zM963 623h2v1h-2zM965 622h11v1h-11zM976 623h2v1h-2zM978 624h3v1h-3zM981 625h3v1h-3zM984 626h2v1h-2zM986 627h3v1h-3zM989 628h5v1h-5zM994 627h5v1h-5zM999 628h1v1h-1zM1000 629h1v1h-1zM1001 630h1v1h-1zM1002 631h2v1h-2zM1004 632h1v1h-1zM1005 633h1v1h-1zM1006 634h1v1h-1zM1007 633h2v1h-2zM1009 632h1v1h-1zM1010 631h2v1h-2zM1012 630h2v1h-2zM1014 629h4v1h-4zM1018 628h6v1h-6zM1024 627h4v1h-4zM1028 626h4v1h-4zM1032 625h2v1h-2zM1034 624h3v1h-3zM1037 623h5v1h-5zM1042 622h5v1h-5zM1047 621h1v1h-1zM1048 620h2v1h-2zM1050 619h1v1h-1zM1051 618h1v1h-1zM1052 617h2v1h-2zM1054 616h1v1h-1zM1055 615h1v1h-1zM1056 614h1v1h-1zM1057 613h1v1h-1zM1058 612h1v1h-1zM1059 611h1v1h-1zM1060 610h1v1h-1zM1061 609h1v1h-1zM1062 608h2v1h-2zM1064 609h4v1h-4zM1068 610h4v1h-4zM1072 609h4v1h-4zM1076 608h4v1h-4zM1080 609h2v1h-2zM1082 610h3v1h-3zM1085 611h5v1h-5zM1090 612h5v1h-5zM1095 611h2v1h-2zM1097 610h2v1h-2zM1099 609h2v1h-2zM1101 608h3v1h-3zM1104 607h2v1h-2zM1106 606h3v1h-3zM1109 605h3v1h-3zM1112 604h2v1h-2zM1114 603h3v1h-3zM1117 602h3v1h-3zM1120 603h4v1h-4zM1124 604h6v1h-6zM1130 605h6v1h-6zM1136 606h2v1h-2zM1138 607h3v1h-3zM1141 608h11v1h-11zM1152 607h4v1h-4zM1156 606h3v1h-3zM1159 605h1v1h-1zM1160 604h1v1h-1zM1161 603h1v1h-1zM1162 602h2v1h-2zM1164 601h1v1h-1zM1165 600h1v1h-1zM1166 599h9v1h-9z" fill="#1e90ff"/>
<rect x="1194" y="570" width="1" height="1" fill="#000"/>
<rect x="1194" y="668" width="1" height="1" fill="#000"/>
<rect x="6" y="670" width="1" height="3" fill="#000"/>
<rect x="70" y="670" width="1" height="3" fill="#000"/>
<rect x="134" y="670" width="1" height="3" fill="#000"/>
<rect x="198" y="670" width="1" height="3" fill="#000"/>
<rect x="262" y="670" width="1" height="3" fill="#000"/>
<rect x="326" y="670" width="1" height="3" fill="#000"/>
<rect x="390" y="670" width="1" height="3" fill="#000"/>
<rect x="454" y="670" width="1" height="3" fill="#000"/>
<rect x="518" y="670" width="1" height="3" fill="#000"/>
<rect x="582" y="670" width="1" height="3" fill="#000"/>
<rect x="646" y="670" width="1" height="3" fill="#000"/>
<rect x="710" y="670" width="1" height="3" fill="#000"/>
<rect x="774" y="670" width="1" height="3" fill="#000"/>
<rect x="838" y="670" width="1" height="3" fill="#000"/>
<rect x="902" y="670" width="1" height="3" fill="#000"/>
<rect x="966" y="670" width="1" height="3" fill="#000"/>
<rect x="1030" y="670" width="1" height="3" fill="#000"/>
<rect x="1094" y="670" width="1" height="3" fill="#000"/>
<rect x="1158" y="670" width="1" height="3" fill="#000"/>
</g>
<text transform="translate(9.4,580.9) scale(0.947,1)" font-family='"Liberation Sans", sans-serif' font-size="9.8" fill="#000" stroke="#000" stroke-width="0.25">RSI(14) 70.3777</text>
<text transform="translate(1196.8,578.8) scale(0.926,1)" font-family='"Liberation Sans", sans-serif' font-size="9.8" fill="#000" stroke="#000" stroke-width="0.25">100</text>
<text transform="translate(1195.4,602.8) scale(0.926,1)" font-family='"Liberation Sans", sans-serif' font-size="9.8" fill="#000" stroke="#000" stroke-width="0.25">70</text>
<text transform="translate(1195.4,642.8) scale(0.926,1)" font-family='"Liberation Sans", sans-serif' font-size="9.8" fill="#000" stroke="#000" stroke-width="0.25">30</text>
<text transform="translate(1196.6,665.4) scale(0.926,1)" font-family='"Liberation Sans", sans-serif' font-size="9.8" fill="#000" stroke="#000" stroke-width="0.25">0</text>
<text transform="translate(5.3,681.7) scale(0.948,1)" font-family='"Liberation Sans", sans-serif' font-size="9.8" fill="#000" stroke="#000" stroke-width="0.25">14 Mar 2022</text>
<text transform="translate(69.3,681.7) scale(0.948,1)" font-family='"Liberation Sans", sans-serif' font-size="9.8" fill="#000" stroke="#000" stroke-width="0.25">15 Mar 12:00</text>
<text transform="translate(133.3,681.7) scale(0.948,1)" font-family='"Liberation Sans", sans-serif' font-size="9.8" fill="#000" stroke="#000" stroke-width="0.25">16 Mar 20:00</text>
<text transform="translate(197.3,681.7) scale(0.948,1)" font-family='"Liberation Sans", sans-serif' font-size="9.8" fill="#000" stroke="#000" stroke-width="0.25">18 Mar 04:00</text>
<text transform="translate(261.3,681.7) scale(0.948,1)" font-family='"Liberation Sans", sans-serif' font-size="9.8" fill="#000" stroke="#000" stroke-width="0.25">21 Mar 08:00</text>
<text transform="translate(325.3,681.7) scale(0.948,1)" font-family='"Liberation Sans", sans-serif' font-size="9.8" fill="#000" stroke="#000" stroke-width="0.25">22 Mar 16:00</text>
<text transform="translate(389.3,681.7) scale(0.948,1)" font-family='"Liberation Sans", sans-serif' font-size="9.8" fill="#000" stroke="#000" stroke-width="0.25">24 Mar 00:00</text>
<text transform="translate(453.3,681.7) scale(0.948,1)" font-family='"Liberation Sans", sans-serif' font-size="9.8" fill="#000" stroke="#000" stroke-width="0.25">25 Mar 08:00</text>
<text transform="translate(517.3,681.7) scale(0.948,1)" font-family='"Liberation Sans", sans-serif' font-size="9.8" fill="#000" stroke="#000" stroke-width="0.25">28 Mar 12:00</text>
<text transform="translate(581.3,681.7) scale(0.948,1)" font-family='"Liberation Sans", sans-serif' font-size="9.8" fill="#000" stroke="#000" stroke-width="0.25">29 Mar 20:00</text>
<text transform="translate(645.3,681.7) scale(0.948,1)" font-family='"Liberation Sans", sans-serif' font-size="9.8" fill="#000" stroke="#000" stroke-width="0.25">31 Mar 04:00</text>
<text transform="translate(709.3,681.7) scale(0.963,1)" font-family='"Liberation Sans", sans-serif' font-size="9.8" fill="#000" stroke="#000" stroke-width="0.25">1 Apr 12:00</text>
<text transform="translate(773.3,681.7) scale(0.963,1)" font-family='"Liberation Sans", sans-serif' font-size="9.8" fill="#000" stroke="#000" stroke-width="0.25">4 Apr 16:00</text>
<text transform="translate(837.3,681.7) scale(0.963,1)" font-family='"Liberation Sans", sans-serif' font-size="9.8" fill="#000" stroke="#000" stroke-width="0.25">6 Apr 00:00</text>
<text transform="translate(901.3,681.7) scale(0.963,1)" font-family='"Liberation Sans", sans-serif' font-size="9.8" fill="#000" stroke="#000" stroke-width="0.25">7 Apr 08:00</text>
<text transform="translate(965.3,681.7) scale(0.963,1)" font-family='"Liberation Sans", sans-serif' font-size="9.8" fill="#000" stroke="#000" stroke-width="0.25">8 Apr 16:00</text>
<text transform="translate(1029.3,681.7) scale(0.963,1)" font-family='"Liberation Sans", sans-serif' font-size="9.8" fill="#000" stroke="#000" stroke-width="0.25">11 Apr 20:00</text>
<text transform="translate(1093.3,681.7) scale(0.963,1)" font-family='"Liberation Sans", sans-serif' font-size="9.8" fill="#000" stroke="#000" stroke-width="0.25">13 Apr 04:00</text>
<text transform="translate(1157.3,681.7) scale(0.963,1)" font-family='"Liberation Sans", sans-serif' font-size="9.8" fill="#000" stroke="#000" stroke-width="0.25">14 Apr 12:00</text>
</svg>
</body></html>
